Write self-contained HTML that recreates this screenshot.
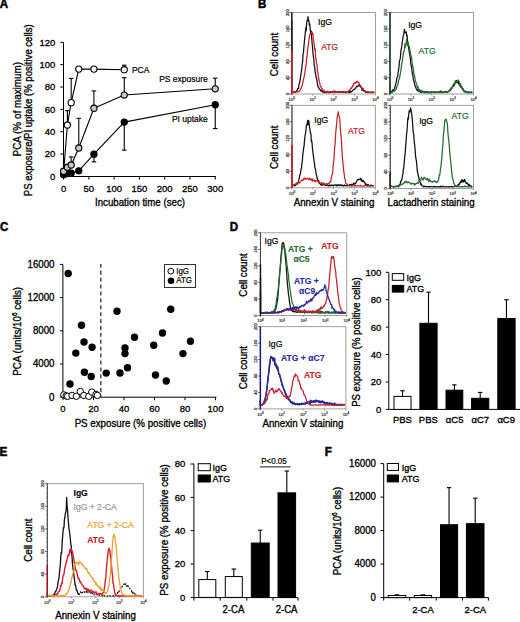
<!DOCTYPE html>
<html><head><meta charset="utf-8"><title>Figure</title>
<style>html,body{margin:0;padding:0;background:#fff;} svg{display:block;} text{font-family:"Liberation Sans", sans-serif;}</style>
</head><body>
<svg width="520" height="622" viewBox="0 0 520 622" font-family='"Liberation Sans", sans-serif'>
<rect width="520" height="622" fill="#fff"/>
<text x="-0.2" y="8.4" font-size="11.5" font-weight="bold" stroke="#000" stroke-width="0.5" transform="translate(-0.20 8.40) scale(1 1.05) translate(0.20 -8.40)">A</text>
<text x="258" y="8.4" font-size="11.5" font-weight="bold" stroke="#000" stroke-width="0.5" transform="translate(258.00 8.40) scale(1 1.05) translate(-258.00 -8.40)">B</text>
<text x="0" y="231.3" font-size="11.5" font-weight="bold" stroke="#000" stroke-width="0.5" transform="translate(0.00 231.30) scale(1 1.05) translate(-0.00 -231.30)">C</text>
<text x="229.8" y="231.0" font-size="11.5" font-weight="bold" stroke="#000" stroke-width="0.5" transform="translate(229.80 231.00) scale(1 1.05) translate(-229.80 -231.00)">D</text>
<text x="-0.4" y="456.0" font-size="11.7" font-weight="bold" stroke="#000" stroke-width="0.5" transform="translate(-0.40 456.00) scale(1 1.05) translate(0.40 -456.00)">E</text>
<text x="324.8" y="456.0" font-size="11.5" font-weight="bold" stroke="#000" stroke-width="0.5" transform="translate(324.80 456.00) scale(1 1.05) translate(-324.80 -456.00)">F</text>
<line x1="63.50" y1="42.30" x2="63.50" y2="176.90" stroke="#000" stroke-width="1"/>
<line x1="63.10" y1="176.50" x2="215.80" y2="176.50" stroke="#000" stroke-width="1"/>
<line x1="60.30" y1="176.40" x2="63.50" y2="176.40" stroke="#000" stroke-width="1"/>
<text x="55.30" y="179.80" font-size="9.5" text-anchor="end" fill="#000" stroke="#000" stroke-width="0.3" transform="translate(55.30 179.80) scale(1 1.05) translate(-55.30 -179.80)">0</text>
<line x1="60.30" y1="154.05" x2="63.50" y2="154.05" stroke="#000" stroke-width="1"/>
<text x="55.30" y="157.45" font-size="9.5" text-anchor="end" fill="#000" stroke="#000" stroke-width="0.3" transform="translate(55.30 157.45) scale(1 1.05) translate(-55.30 -157.45)">20</text>
<line x1="60.30" y1="131.70" x2="63.50" y2="131.70" stroke="#000" stroke-width="1"/>
<text x="55.30" y="135.10" font-size="9.5" text-anchor="end" fill="#000" stroke="#000" stroke-width="0.3" transform="translate(55.30 135.10) scale(1 1.05) translate(-55.30 -135.10)">40</text>
<line x1="60.30" y1="109.35" x2="63.50" y2="109.35" stroke="#000" stroke-width="1"/>
<text x="55.30" y="112.75" font-size="9.5" text-anchor="end" fill="#000" stroke="#000" stroke-width="0.3" transform="translate(55.30 112.75) scale(1 1.05) translate(-55.30 -112.75)">60</text>
<line x1="60.30" y1="87.00" x2="63.50" y2="87.00" stroke="#000" stroke-width="1"/>
<text x="55.30" y="90.40" font-size="9.5" text-anchor="end" fill="#000" stroke="#000" stroke-width="0.3" transform="translate(55.30 90.40) scale(1 1.05) translate(-55.30 -90.40)">80</text>
<line x1="60.30" y1="64.65" x2="63.50" y2="64.65" stroke="#000" stroke-width="1"/>
<text x="55.30" y="68.05" font-size="9.5" text-anchor="end" fill="#000" stroke="#000" stroke-width="0.3" transform="translate(55.30 68.05) scale(1 1.05) translate(-55.30 -68.05)">100</text>
<line x1="60.30" y1="42.30" x2="63.50" y2="42.30" stroke="#000" stroke-width="1"/>
<text x="55.30" y="45.70" font-size="9.5" text-anchor="end" fill="#000" stroke="#000" stroke-width="0.3" transform="translate(55.30 45.70) scale(1 1.05) translate(-55.30 -45.70)">120</text>
<line x1="63.60" y1="176.50" x2="63.60" y2="179.60" stroke="#000" stroke-width="1"/>
<text x="63.60" y="191.60" font-size="9.5" text-anchor="middle" fill="#000" stroke="#000" stroke-width="0.3" transform="translate(63.60 191.60) scale(1 1.05) translate(-63.60 -191.60)">0</text>
<line x1="88.88" y1="176.50" x2="88.88" y2="179.60" stroke="#000" stroke-width="1"/>
<text x="88.88" y="191.60" font-size="9.5" text-anchor="middle" fill="#000" stroke="#000" stroke-width="0.3" transform="translate(88.88 191.60) scale(1 1.05) translate(-88.88 -191.60)">50</text>
<line x1="114.15" y1="176.50" x2="114.15" y2="179.60" stroke="#000" stroke-width="1"/>
<text x="114.15" y="191.60" font-size="9.5" text-anchor="middle" fill="#000" stroke="#000" stroke-width="0.3" transform="translate(114.15 191.60) scale(1 1.05) translate(-114.15 -191.60)">100</text>
<line x1="139.42" y1="176.50" x2="139.42" y2="179.60" stroke="#000" stroke-width="1"/>
<text x="139.42" y="191.60" font-size="9.5" text-anchor="middle" fill="#000" stroke="#000" stroke-width="0.3" transform="translate(139.42 191.60) scale(1 1.05) translate(-139.42 -191.60)">150</text>
<line x1="164.70" y1="176.50" x2="164.70" y2="179.60" stroke="#000" stroke-width="1"/>
<text x="164.70" y="191.60" font-size="9.5" text-anchor="middle" fill="#000" stroke="#000" stroke-width="0.3" transform="translate(164.70 191.60) scale(1 1.05) translate(-164.70 -191.60)">200</text>
<line x1="189.97" y1="176.50" x2="189.97" y2="179.60" stroke="#000" stroke-width="1"/>
<text x="189.97" y="191.60" font-size="9.5" text-anchor="middle" fill="#000" stroke="#000" stroke-width="0.3" transform="translate(189.97 191.60) scale(1 1.05) translate(-189.97 -191.60)">250</text>
<line x1="215.25" y1="176.50" x2="215.25" y2="179.60" stroke="#000" stroke-width="1"/>
<text x="215.25" y="191.60" font-size="9.5" text-anchor="middle" fill="#000" stroke="#000" stroke-width="0.3" transform="translate(215.25 191.60) scale(1 1.05) translate(-215.25 -191.60)">300</text>
<text x="140.00" y="206.20" font-size="9.7" text-anchor="middle" fill="#000" stroke="#000" stroke-width="0.3" transform="translate(140.00 206.20) scale(1 1.05) translate(-140.00 -206.20)">Incubation time (sec)</text>
<text x="21.00" y="109.20" font-size="9.9" text-anchor="middle" fill="#000" stroke="#000" stroke-width="0.3" transform="rotate(-90 21.00 109.20) translate(21.00 109.20) scale(1 1.05) translate(-21.00 -109.20)">PCA (% of maximum)</text>
<text x="32.40" y="110.30" font-size="9.55" text-anchor="middle" fill="#000" stroke="#000" stroke-width="0.3" transform="rotate(-90 32.40 110.30) translate(32.40 110.30) scale(1 1.05) translate(-32.40 -110.30)">PS exposure/PI uptake (% positive cells)</text>
<line x1="67.39" y1="125.00" x2="67.39" y2="110.69" stroke="#000" stroke-width="1.1"/>
<line x1="65.09" y1="110.69" x2="69.69" y2="110.69" stroke="#000" stroke-width="1.1"/>
<line x1="71.18" y1="102.65" x2="71.18" y2="78.40" stroke="#000" stroke-width="1.1"/>
<line x1="68.88" y1="78.40" x2="73.48" y2="78.40" stroke="#000" stroke-width="1.1"/>
<line x1="124.26" y1="69.68" x2="124.26" y2="65.21" stroke="#000" stroke-width="1.1"/>
<line x1="121.96" y1="65.21" x2="126.56" y2="65.21" stroke="#000" stroke-width="1.1"/>
<line x1="71.18" y1="165.00" x2="71.18" y2="156.96" stroke="#000" stroke-width="1.1"/>
<line x1="68.88" y1="156.96" x2="73.48" y2="156.96" stroke="#000" stroke-width="1.1"/>
<line x1="78.77" y1="148.02" x2="78.77" y2="118.29" stroke="#000" stroke-width="1.1"/>
<line x1="76.47" y1="118.29" x2="81.06" y2="118.29" stroke="#000" stroke-width="1.1"/>
<line x1="93.93" y1="108.23" x2="93.93" y2="90.91" stroke="#000" stroke-width="1.1"/>
<line x1="91.63" y1="90.91" x2="96.23" y2="90.91" stroke="#000" stroke-width="1.1"/>
<line x1="124.26" y1="95.05" x2="124.26" y2="77.72" stroke="#000" stroke-width="1.1"/>
<line x1="121.96" y1="77.72" x2="126.56" y2="77.72" stroke="#000" stroke-width="1.1"/>
<line x1="215.25" y1="88.79" x2="215.25" y2="78.17" stroke="#000" stroke-width="1.1"/>
<line x1="212.95" y1="78.17" x2="217.55" y2="78.17" stroke="#000" stroke-width="1.1"/>
<line x1="93.93" y1="154.16" x2="93.93" y2="161.87" stroke="#000" stroke-width="1.1"/>
<line x1="91.63" y1="161.87" x2="96.23" y2="161.87" stroke="#000" stroke-width="1.1"/>
<line x1="124.26" y1="122.09" x2="124.26" y2="150.14" stroke="#000" stroke-width="1.1"/>
<line x1="121.96" y1="150.14" x2="126.56" y2="150.14" stroke="#000" stroke-width="1.1"/>
<line x1="215.25" y1="104.77" x2="215.25" y2="128.57" stroke="#000" stroke-width="1.1"/>
<line x1="212.95" y1="128.57" x2="217.55" y2="128.57" stroke="#000" stroke-width="1.1"/>
<polyline points="63.60,174.72 67.39,173.61 71.18,173.27 78.77,170.81 93.93,154.16 124.26,122.09 215.25,104.77" fill="none" stroke="#000" stroke-width="1.1" stroke-linejoin="round"/>
<polyline points="63.60,171.26 67.39,167.24 71.18,165.00 78.77,148.02 93.93,108.23 124.26,95.05 215.25,88.79" fill="none" stroke="#000" stroke-width="1.1" stroke-linejoin="round"/>
<polyline points="63.60,171.93 67.39,125.00 71.18,102.65 78.77,69.12 93.93,69.12 124.26,69.68" fill="none" stroke="#000" stroke-width="1.1" stroke-linejoin="round"/>
<circle cx="63.60" cy="171.93" r="3.1" fill="#fff" stroke="#000" stroke-width="1.1"/>
<circle cx="67.39" cy="125.00" r="3.1" fill="#fff" stroke="#000" stroke-width="1.1"/>
<circle cx="71.18" cy="102.65" r="3.1" fill="#fff" stroke="#000" stroke-width="1.1"/>
<circle cx="78.77" cy="69.12" r="3.1" fill="#fff" stroke="#000" stroke-width="1.1"/>
<circle cx="93.93" cy="69.12" r="3.1" fill="#fff" stroke="#000" stroke-width="1.1"/>
<circle cx="124.26" cy="69.68" r="3.1" fill="#fff" stroke="#000" stroke-width="1.1"/>
<circle cx="63.60" cy="174.72" r="3.1" fill="#000" stroke="#000" stroke-width="1.1"/>
<circle cx="67.39" cy="173.61" r="3.1" fill="#000" stroke="#000" stroke-width="1.1"/>
<circle cx="71.18" cy="173.27" r="3.1" fill="#000" stroke="#000" stroke-width="1.1"/>
<circle cx="78.77" cy="170.81" r="3.1" fill="#000" stroke="#000" stroke-width="1.1"/>
<circle cx="93.93" cy="154.16" r="3.1" fill="#000" stroke="#000" stroke-width="1.1"/>
<circle cx="124.26" cy="122.09" r="3.1" fill="#000" stroke="#000" stroke-width="1.1"/>
<circle cx="215.25" cy="104.77" r="3.1" fill="#000" stroke="#000" stroke-width="1.1"/>
<circle cx="63.60" cy="171.26" r="3.1" fill="#c8c8c8" stroke="#000" stroke-width="1.1"/>
<circle cx="67.39" cy="167.24" r="3.1" fill="#c8c8c8" stroke="#000" stroke-width="1.1"/>
<circle cx="71.18" cy="165.00" r="3.1" fill="#c8c8c8" stroke="#000" stroke-width="1.1"/>
<circle cx="78.77" cy="148.02" r="3.1" fill="#c8c8c8" stroke="#000" stroke-width="1.1"/>
<circle cx="93.93" cy="108.23" r="3.1" fill="#c8c8c8" stroke="#000" stroke-width="1.1"/>
<circle cx="124.26" cy="95.05" r="3.1" fill="#c8c8c8" stroke="#000" stroke-width="1.1"/>
<circle cx="215.25" cy="88.79" r="3.1" fill="#c8c8c8" stroke="#000" stroke-width="1.1"/>
<text x="131.90" y="72.80" font-size="8.5" text-anchor="start" fill="#000" stroke="#000" stroke-width="0.2" transform="translate(131.90 72.80) scale(1 1.05) translate(-131.90 -72.80)">PCA</text>
<text x="207.80" y="81.80" font-size="8.5" text-anchor="end" fill="#000" stroke="#000" stroke-width="0.2" transform="translate(207.80 81.80) scale(1 1.05) translate(-207.80 -81.80)">PS exposure</text>
<text x="207.80" y="122.40" font-size="8.5" text-anchor="end" fill="#000" stroke="#000" stroke-width="0.2" transform="translate(207.80 122.40) scale(1 1.05) translate(-207.80 -122.40)">PI uptake</text>
<rect x="291.80" y="12.60" width="83.60" height="81.40" fill="none" stroke="#888" stroke-width="0.8"/>
<line x1="291.80" y1="12.60" x2="291.80" y2="94.00" stroke="#444" stroke-width="1.0"/>
<line x1="290.80" y1="94.00" x2="291.80" y2="94.00" stroke="#444" stroke-width="0.6"/>
<line x1="290.80" y1="90.74" x2="291.80" y2="90.74" stroke="#444" stroke-width="0.6"/>
<line x1="290.80" y1="87.49" x2="291.80" y2="87.49" stroke="#444" stroke-width="0.6"/>
<line x1="290.80" y1="84.23" x2="291.80" y2="84.23" stroke="#444" stroke-width="0.6"/>
<line x1="290.80" y1="80.98" x2="291.80" y2="80.98" stroke="#444" stroke-width="0.6"/>
<line x1="290.80" y1="77.72" x2="291.80" y2="77.72" stroke="#444" stroke-width="0.6"/>
<line x1="290.80" y1="74.46" x2="291.80" y2="74.46" stroke="#444" stroke-width="0.6"/>
<line x1="290.80" y1="71.21" x2="291.80" y2="71.21" stroke="#444" stroke-width="0.6"/>
<line x1="290.80" y1="67.95" x2="291.80" y2="67.95" stroke="#444" stroke-width="0.6"/>
<line x1="290.80" y1="64.70" x2="291.80" y2="64.70" stroke="#444" stroke-width="0.6"/>
<line x1="290.80" y1="61.44" x2="291.80" y2="61.44" stroke="#444" stroke-width="0.6"/>
<line x1="290.80" y1="58.18" x2="291.80" y2="58.18" stroke="#444" stroke-width="0.6"/>
<line x1="290.80" y1="54.93" x2="291.80" y2="54.93" stroke="#444" stroke-width="0.6"/>
<line x1="290.80" y1="51.67" x2="291.80" y2="51.67" stroke="#444" stroke-width="0.6"/>
<line x1="290.80" y1="48.42" x2="291.80" y2="48.42" stroke="#444" stroke-width="0.6"/>
<line x1="290.80" y1="45.16" x2="291.80" y2="45.16" stroke="#444" stroke-width="0.6"/>
<line x1="290.80" y1="41.90" x2="291.80" y2="41.90" stroke="#444" stroke-width="0.6"/>
<line x1="290.80" y1="38.65" x2="291.80" y2="38.65" stroke="#444" stroke-width="0.6"/>
<line x1="290.80" y1="35.39" x2="291.80" y2="35.39" stroke="#444" stroke-width="0.6"/>
<line x1="290.80" y1="32.14" x2="291.80" y2="32.14" stroke="#444" stroke-width="0.6"/>
<line x1="290.80" y1="28.88" x2="291.80" y2="28.88" stroke="#444" stroke-width="0.6"/>
<line x1="290.80" y1="25.62" x2="291.80" y2="25.62" stroke="#444" stroke-width="0.6"/>
<line x1="290.80" y1="22.37" x2="291.80" y2="22.37" stroke="#444" stroke-width="0.6"/>
<line x1="290.80" y1="19.11" x2="291.80" y2="19.11" stroke="#444" stroke-width="0.6"/>
<line x1="290.80" y1="15.86" x2="291.80" y2="15.86" stroke="#444" stroke-width="0.6"/>
<line x1="290.80" y1="12.60" x2="291.80" y2="12.60" stroke="#444" stroke-width="0.6"/>
<line x1="289.20" y1="94.00" x2="291.80" y2="94.00" stroke="#444" stroke-width="0.7"/>
<text x="288.60" y="94.00" font-size="4.0" text-anchor="middle" fill="#333" stroke="#333" stroke-width="0.2" transform="rotate(-90 288.60 94.00) translate(288.60 94.00) scale(1 1.05) translate(-288.60 -94.00)">0</text>
<line x1="289.20" y1="77.72" x2="291.80" y2="77.72" stroke="#444" stroke-width="0.7"/>
<text x="288.60" y="77.72" font-size="4.0" text-anchor="middle" fill="#333" stroke="#333" stroke-width="0.2" transform="rotate(-90 288.60 77.72) translate(288.60 77.72) scale(1 1.05) translate(-288.60 -77.72)">40</text>
<line x1="289.20" y1="61.44" x2="291.80" y2="61.44" stroke="#444" stroke-width="0.7"/>
<text x="288.60" y="61.44" font-size="4.0" text-anchor="middle" fill="#333" stroke="#333" stroke-width="0.2" transform="rotate(-90 288.60 61.44) translate(288.60 61.44) scale(1 1.05) translate(-288.60 -61.44)">80</text>
<line x1="289.20" y1="45.16" x2="291.80" y2="45.16" stroke="#444" stroke-width="0.7"/>
<text x="288.60" y="45.16" font-size="4.0" text-anchor="middle" fill="#333" stroke="#333" stroke-width="0.2" transform="rotate(-90 288.60 45.16) translate(288.60 45.16) scale(1 1.05) translate(-288.60 -45.16)">120</text>
<line x1="289.20" y1="28.88" x2="291.80" y2="28.88" stroke="#444" stroke-width="0.7"/>
<text x="288.60" y="28.88" font-size="4.0" text-anchor="middle" fill="#333" stroke="#333" stroke-width="0.2" transform="rotate(-90 288.60 28.88) translate(288.60 28.88) scale(1 1.05) translate(-288.60 -28.88)">160</text>
<line x1="289.20" y1="12.60" x2="291.80" y2="12.60" stroke="#444" stroke-width="0.7"/>
<text x="288.60" y="12.60" font-size="4.0" text-anchor="middle" fill="#333" stroke="#333" stroke-width="0.2" transform="rotate(-90 288.60 12.60) translate(288.60 12.60) scale(1 1.05) translate(-288.60 -12.60)">200</text>
<line x1="291.80" y1="94.00" x2="291.80" y2="95.50" stroke="#555" stroke-width="0.6"/>
<text x="291.80" y="101.00" font-size="4.2" text-anchor="middle" fill="#333" stroke="#333" stroke-width="0.2" transform="translate(291.80 101.00) scale(1 1.05) translate(-291.80 -101.00)">10<tspan font-size="3" dy="-1.7">0</tspan></text>
<line x1="312.70" y1="94.00" x2="312.70" y2="95.50" stroke="#555" stroke-width="0.6"/>
<text x="312.70" y="101.00" font-size="4.2" text-anchor="middle" fill="#333" stroke="#333" stroke-width="0.2" transform="translate(312.70 101.00) scale(1 1.05) translate(-312.70 -101.00)">10<tspan font-size="3" dy="-1.7">1</tspan></text>
<line x1="333.60" y1="94.00" x2="333.60" y2="95.50" stroke="#555" stroke-width="0.6"/>
<text x="333.60" y="101.00" font-size="4.2" text-anchor="middle" fill="#333" stroke="#333" stroke-width="0.2" transform="translate(333.60 101.00) scale(1 1.05) translate(-333.60 -101.00)">10<tspan font-size="3" dy="-1.7">2</tspan></text>
<line x1="354.50" y1="94.00" x2="354.50" y2="95.50" stroke="#555" stroke-width="0.6"/>
<text x="354.50" y="101.00" font-size="4.2" text-anchor="middle" fill="#333" stroke="#333" stroke-width="0.2" transform="translate(354.50 101.00) scale(1 1.05) translate(-354.50 -101.00)">10<tspan font-size="3" dy="-1.7">3</tspan></text>
<line x1="375.40" y1="94.00" x2="375.40" y2="95.50" stroke="#555" stroke-width="0.6"/>
<text x="375.40" y="101.00" font-size="4.2" text-anchor="middle" fill="#333" stroke="#333" stroke-width="0.2" transform="translate(375.40 101.00) scale(1 1.05) translate(-375.40 -101.00)">10<tspan font-size="3" dy="-1.7">4</tspan></text>
<polyline points="291.80,20.60 291.80,91.45 292.25,92.50 292.70,92.11 293.15,92.16 293.60,91.82 294.05,92.50 294.50,92.11 294.95,92.09 295.40,92.02 295.85,91.63 296.30,91.08 296.75,90.46 297.20,90.15 297.65,88.55 298.10,88.10 298.55,88.62 299.00,84.08 299.45,83.36 299.90,81.47 300.35,78.09 300.80,75.19 301.25,72.06 301.70,69.32 302.15,64.24 302.60,61.88 303.05,53.88 303.50,52.47 303.95,46.39 304.40,41.36 304.85,36.50 305.30,32.86 305.75,27.90 306.20,30.67 306.65,22.83 307.10,20.89 307.55,20.07 308.00,16.60 308.45,20.83 308.90,20.49 309.35,25.17 309.80,23.96 310.25,29.65 310.70,32.86 311.15,30.95 311.60,37.35 312.05,42.55 312.50,46.65 312.95,53.02 313.40,56.76 313.85,59.16 314.30,65.94 314.75,67.04 315.20,72.51 315.65,73.80 316.10,77.75 316.55,77.78 317.00,80.67 317.45,83.81 317.90,86.43 318.35,87.00 318.80,87.67 319.25,89.21 319.70,89.23 320.15,89.50 320.60,90.59 321.05,91.18 321.50,90.90 321.95,91.67 322.40,91.34 322.85,92.01 323.30,91.27 323.75,92.17 324.20,92.50 324.65,92.11 325.10,92.44 325.55,92.50 326.00,92.27 326.45,91.93 326.90,92.50 327.35,92.26 327.80,92.31 328.25,92.31 328.70,91.93 329.15,92.50 329.60,91.98 330.05,92.34 330.50,92.20 330.95,92.34 331.40,92.38 331.85,92.46 332.30,92.08 332.75,91.41 333.20,91.83 333.65,91.91 334.10,92.02 334.55,92.44 335.00,92.00 335.45,91.42 335.90,92.50 336.35,91.92 336.80,91.84 337.25,92.13 337.70,91.93 338.15,91.69 338.60,91.37 339.05,91.73 339.50,91.59 339.95,92.12 340.40,91.92 340.85,92.18 341.30,92.13 341.75,92.43 342.20,91.98 342.65,91.68 343.10,92.31 343.55,92.15 344.00,92.01 344.45,92.24 344.90,91.88 345.35,92.15 345.80,92.50 346.25,92.50 346.70,91.95 347.15,91.98 347.60,91.77 348.05,92.09 348.50,92.08 348.95,92.50 349.40,91.47 349.85,92.36 350.30,91.41 350.75,92.23 351.20,91.85 351.65,91.25 352.10,91.28 352.55,91.12 353.00,89.93 353.45,89.63 353.90,89.33 354.35,89.28 354.80,89.09 355.25,88.38 355.70,87.92 356.15,87.14 356.60,86.19 357.05,86.47 357.50,86.62 357.95,86.33 358.40,84.94 358.85,85.75 359.30,85.87 359.75,86.12 360.20,86.29 360.65,87.05 361.10,86.91 361.55,87.71 362.00,90.45 362.45,89.38 362.90,88.18 363.35,90.96 363.80,90.63 364.25,90.52 364.70,91.35 365.15,90.99 365.60,92.35 366.05,92.48 366.50,92.15 366.95,92.46 367.40,92.50 367.85,92.06 368.30,92.21 368.75,92.33 369.20,92.50 369.65,92.26 370.10,92.41 370.55,92.50 371.00,92.19 371.45,92.25 371.90,92.36 372.35,92.14 372.80,92.50 373.25,92.45 373.70,92.50 374.15,91.92" fill="none" stroke="#111" stroke-width="1.25" stroke-linejoin="round"/>
<polyline points="291.80,42.60 291.80,92.19 292.25,91.73 292.70,92.50 293.15,91.81 293.60,92.29 294.05,92.28 294.50,91.39 294.95,92.06 295.40,92.11 295.85,91.74 296.30,91.51 296.75,91.91 297.20,91.52 297.65,92.07 298.10,91.61 298.55,91.40 299.00,91.54 299.45,91.25 299.90,90.84 300.35,89.46 300.80,88.65 301.25,87.80 301.70,86.42 302.15,86.07 302.60,83.61 303.05,81.53 303.50,79.01 303.95,78.02 304.40,75.03 304.85,73.73 305.30,69.17 305.75,67.66 306.20,63.40 306.65,56.93 307.10,57.19 307.55,49.90 308.00,46.91 308.45,44.36 308.90,40.21 309.35,37.33 309.80,34.22 310.25,34.13 310.70,33.31 311.15,32.56 311.60,32.94 312.05,32.08 312.50,34.30 312.95,33.49 313.40,39.96 313.85,41.73 314.30,44.79 314.75,49.82 315.20,48.56 315.65,57.72 316.10,59.08 316.55,63.17 317.00,64.54 317.45,71.76 317.90,71.98 318.35,76.60 318.80,78.71 319.25,81.45 319.70,82.45 320.15,85.49 320.60,86.20 321.05,87.14 321.50,87.25 321.95,90.57 322.40,88.99 322.85,89.85 323.30,90.99 323.75,90.90 324.20,91.51 324.65,90.70 325.10,91.49 325.55,91.78 326.00,91.85 326.45,91.88 326.90,91.91 327.35,92.23 327.80,90.99 328.25,92.50 328.70,92.50 329.15,91.94 329.60,91.96 330.05,91.74 330.50,91.99 330.95,91.96 331.40,91.76 331.85,91.49 332.30,92.09 332.75,92.06 333.20,91.08 333.65,91.68 334.10,92.33 334.55,90.92 335.00,91.58 335.45,92.16 335.90,92.41 336.35,91.79 336.80,92.27 337.25,92.37 337.70,92.47 338.15,92.14 338.60,91.45 339.05,92.11 339.50,92.50 339.95,91.65 340.40,91.90 340.85,91.58 341.30,91.43 341.75,92.01 342.20,92.00 342.65,91.95 343.10,92.41 343.55,91.63 344.00,91.31 344.45,91.80 344.90,91.95 345.35,91.91 345.80,92.08 346.25,92.02 346.70,91.74 347.15,91.81 347.60,91.46 348.05,91.81 348.50,90.61 348.95,90.45 349.40,90.74 349.85,90.98 350.30,89.22 350.75,88.02 351.20,88.54 351.65,87.76 352.10,87.15 352.55,85.63 353.00,86.01 353.45,83.96 353.90,84.21 354.35,82.67 354.80,82.78 355.25,82.52 355.70,83.13 356.15,82.27 356.60,81.81 357.05,81.10 357.50,81.61 357.95,82.68 358.40,82.29 358.85,82.45 359.30,83.99 359.75,84.94 360.20,85.69 360.65,85.67 361.10,86.65 361.55,88.34 362.00,88.23 362.45,89.38 362.90,90.09 363.35,89.51 363.80,90.17 364.25,91.31 364.70,91.21 365.15,91.25 365.60,91.96 366.05,91.87 366.50,91.65 366.95,92.50 367.40,91.95 367.85,91.84 368.30,91.97 368.75,92.50 369.20,92.09 369.65,92.50 370.10,92.02 370.55,92.02 371.00,92.18 371.45,92.50 371.90,92.50 372.35,91.95 372.80,92.50 373.25,92.10 373.70,92.10 374.15,92.40" fill="none" stroke="#c42229" stroke-width="1.25" stroke-linejoin="round"/>
<line x1="291.80" y1="12.60" x2="291.80" y2="52.60" stroke="#222" stroke-width="1.3"/>
<line x1="291.80" y1="50.60" x2="291.80" y2="94.00" stroke="#c42229" stroke-width="1.4"/>
<text x="318.00" y="24.90" font-size="8.6" text-anchor="start" fill="#000" stroke="#000" stroke-width="0.2" transform="translate(318.00 24.90) scale(1 1.05) translate(-318.00 -24.90)">IgG</text>
<text x="321.20" y="50.40" font-size="8.6" text-anchor="start" fill="#c42229" stroke="#c42229" stroke-width="0.2" transform="translate(321.20 50.40) scale(1 1.05) translate(-321.20 -50.40)">ATG</text>
<rect x="390.00" y="12.60" width="83.60" height="81.40" fill="none" stroke="#888" stroke-width="0.8"/>
<line x1="390.00" y1="12.60" x2="390.00" y2="94.00" stroke="#444" stroke-width="1.0"/>
<line x1="389.00" y1="94.00" x2="390.00" y2="94.00" stroke="#444" stroke-width="0.6"/>
<line x1="389.00" y1="90.74" x2="390.00" y2="90.74" stroke="#444" stroke-width="0.6"/>
<line x1="389.00" y1="87.49" x2="390.00" y2="87.49" stroke="#444" stroke-width="0.6"/>
<line x1="389.00" y1="84.23" x2="390.00" y2="84.23" stroke="#444" stroke-width="0.6"/>
<line x1="389.00" y1="80.98" x2="390.00" y2="80.98" stroke="#444" stroke-width="0.6"/>
<line x1="389.00" y1="77.72" x2="390.00" y2="77.72" stroke="#444" stroke-width="0.6"/>
<line x1="389.00" y1="74.46" x2="390.00" y2="74.46" stroke="#444" stroke-width="0.6"/>
<line x1="389.00" y1="71.21" x2="390.00" y2="71.21" stroke="#444" stroke-width="0.6"/>
<line x1="389.00" y1="67.95" x2="390.00" y2="67.95" stroke="#444" stroke-width="0.6"/>
<line x1="389.00" y1="64.70" x2="390.00" y2="64.70" stroke="#444" stroke-width="0.6"/>
<line x1="389.00" y1="61.44" x2="390.00" y2="61.44" stroke="#444" stroke-width="0.6"/>
<line x1="389.00" y1="58.18" x2="390.00" y2="58.18" stroke="#444" stroke-width="0.6"/>
<line x1="389.00" y1="54.93" x2="390.00" y2="54.93" stroke="#444" stroke-width="0.6"/>
<line x1="389.00" y1="51.67" x2="390.00" y2="51.67" stroke="#444" stroke-width="0.6"/>
<line x1="389.00" y1="48.42" x2="390.00" y2="48.42" stroke="#444" stroke-width="0.6"/>
<line x1="389.00" y1="45.16" x2="390.00" y2="45.16" stroke="#444" stroke-width="0.6"/>
<line x1="389.00" y1="41.90" x2="390.00" y2="41.90" stroke="#444" stroke-width="0.6"/>
<line x1="389.00" y1="38.65" x2="390.00" y2="38.65" stroke="#444" stroke-width="0.6"/>
<line x1="389.00" y1="35.39" x2="390.00" y2="35.39" stroke="#444" stroke-width="0.6"/>
<line x1="389.00" y1="32.14" x2="390.00" y2="32.14" stroke="#444" stroke-width="0.6"/>
<line x1="389.00" y1="28.88" x2="390.00" y2="28.88" stroke="#444" stroke-width="0.6"/>
<line x1="389.00" y1="25.62" x2="390.00" y2="25.62" stroke="#444" stroke-width="0.6"/>
<line x1="389.00" y1="22.37" x2="390.00" y2="22.37" stroke="#444" stroke-width="0.6"/>
<line x1="389.00" y1="19.11" x2="390.00" y2="19.11" stroke="#444" stroke-width="0.6"/>
<line x1="389.00" y1="15.86" x2="390.00" y2="15.86" stroke="#444" stroke-width="0.6"/>
<line x1="389.00" y1="12.60" x2="390.00" y2="12.60" stroke="#444" stroke-width="0.6"/>
<line x1="387.40" y1="94.00" x2="390.00" y2="94.00" stroke="#444" stroke-width="0.7"/>
<text x="386.80" y="94.00" font-size="4.0" text-anchor="middle" fill="#333" stroke="#333" stroke-width="0.2" transform="rotate(-90 386.80 94.00) translate(386.80 94.00) scale(1 1.05) translate(-386.80 -94.00)">0</text>
<line x1="387.40" y1="77.72" x2="390.00" y2="77.72" stroke="#444" stroke-width="0.7"/>
<text x="386.80" y="77.72" font-size="4.0" text-anchor="middle" fill="#333" stroke="#333" stroke-width="0.2" transform="rotate(-90 386.80 77.72) translate(386.80 77.72) scale(1 1.05) translate(-386.80 -77.72)">40</text>
<line x1="387.40" y1="61.44" x2="390.00" y2="61.44" stroke="#444" stroke-width="0.7"/>
<text x="386.80" y="61.44" font-size="4.0" text-anchor="middle" fill="#333" stroke="#333" stroke-width="0.2" transform="rotate(-90 386.80 61.44) translate(386.80 61.44) scale(1 1.05) translate(-386.80 -61.44)">80</text>
<line x1="387.40" y1="45.16" x2="390.00" y2="45.16" stroke="#444" stroke-width="0.7"/>
<text x="386.80" y="45.16" font-size="4.0" text-anchor="middle" fill="#333" stroke="#333" stroke-width="0.2" transform="rotate(-90 386.80 45.16) translate(386.80 45.16) scale(1 1.05) translate(-386.80 -45.16)">120</text>
<line x1="387.40" y1="28.88" x2="390.00" y2="28.88" stroke="#444" stroke-width="0.7"/>
<text x="386.80" y="28.88" font-size="4.0" text-anchor="middle" fill="#333" stroke="#333" stroke-width="0.2" transform="rotate(-90 386.80 28.88) translate(386.80 28.88) scale(1 1.05) translate(-386.80 -28.88)">160</text>
<line x1="387.40" y1="12.60" x2="390.00" y2="12.60" stroke="#444" stroke-width="0.7"/>
<text x="386.80" y="12.60" font-size="4.0" text-anchor="middle" fill="#333" stroke="#333" stroke-width="0.2" transform="rotate(-90 386.80 12.60) translate(386.80 12.60) scale(1 1.05) translate(-386.80 -12.60)">200</text>
<line x1="390.00" y1="94.00" x2="390.00" y2="95.50" stroke="#555" stroke-width="0.6"/>
<text x="390.00" y="101.00" font-size="4.2" text-anchor="middle" fill="#333" stroke="#333" stroke-width="0.2" transform="translate(390.00 101.00) scale(1 1.05) translate(-390.00 -101.00)">10<tspan font-size="3" dy="-1.7">0</tspan></text>
<line x1="410.90" y1="94.00" x2="410.90" y2="95.50" stroke="#555" stroke-width="0.6"/>
<text x="410.90" y="101.00" font-size="4.2" text-anchor="middle" fill="#333" stroke="#333" stroke-width="0.2" transform="translate(410.90 101.00) scale(1 1.05) translate(-410.90 -101.00)">10<tspan font-size="3" dy="-1.7">1</tspan></text>
<line x1="431.80" y1="94.00" x2="431.80" y2="95.50" stroke="#555" stroke-width="0.6"/>
<text x="431.80" y="101.00" font-size="4.2" text-anchor="middle" fill="#333" stroke="#333" stroke-width="0.2" transform="translate(431.80 101.00) scale(1 1.05) translate(-431.80 -101.00)">10<tspan font-size="3" dy="-1.7">2</tspan></text>
<line x1="452.70" y1="94.00" x2="452.70" y2="95.50" stroke="#555" stroke-width="0.6"/>
<text x="452.70" y="101.00" font-size="4.2" text-anchor="middle" fill="#333" stroke="#333" stroke-width="0.2" transform="translate(452.70 101.00) scale(1 1.05) translate(-452.70 -101.00)">10<tspan font-size="3" dy="-1.7">3</tspan></text>
<line x1="473.60" y1="94.00" x2="473.60" y2="95.50" stroke="#555" stroke-width="0.6"/>
<text x="473.60" y="101.00" font-size="4.2" text-anchor="middle" fill="#333" stroke="#333" stroke-width="0.2" transform="translate(473.60 101.00) scale(1 1.05) translate(-473.60 -101.00)">10<tspan font-size="3" dy="-1.7">4</tspan></text>
<polyline points="390.00,82.60 390.00,92.16 390.45,91.87 390.90,92.12 391.35,91.56 391.80,91.04 392.25,90.95 392.70,89.95 393.15,90.72 393.60,89.59 394.05,89.28 394.50,88.43 394.95,86.96 395.40,85.38 395.85,83.70 396.30,81.85 396.75,78.39 397.20,77.20 397.65,76.87 398.10,72.43 398.55,70.23 399.00,66.91 399.45,61.53 399.90,59.68 400.35,58.14 400.80,51.82 401.25,49.03 401.70,46.78 402.15,43.29 402.60,40.02 403.05,36.67 403.50,35.16 403.95,32.86 404.40,29.27 404.85,32.57 405.30,32.67 405.75,32.48 406.20,31.70 406.65,35.87 407.10,34.95 407.55,41.19 408.00,43.57 408.45,45.33 408.90,49.61 409.35,52.67 409.80,54.82 410.25,57.98 410.70,62.09 411.15,65.80 411.60,67.28 412.05,71.21 412.50,74.57 412.95,75.79 413.40,79.91 413.85,81.06 414.30,82.50 414.75,84.59 415.20,86.35 415.65,86.90 416.10,88.46 416.55,89.31 417.00,90.22 417.45,89.51 417.90,90.96 418.35,90.48 418.80,91.16 419.25,91.70 419.70,91.46 420.15,91.78 420.60,91.95 421.05,92.60 421.50,92.12 421.95,91.83 422.40,92.03 422.85,91.85 423.30,91.67 423.75,92.11 424.20,91.50 424.65,92.60 425.10,92.39 425.55,92.60 426.00,91.98 426.45,92.26 426.90,91.63 427.35,92.44 427.80,92.60 428.25,91.80 428.70,92.60 429.15,92.60 429.60,92.37 430.05,92.05 430.50,92.50 430.95,92.23 431.40,92.60 431.85,91.62 432.30,92.33 432.75,92.25 433.20,92.07 433.65,92.24 434.10,92.22 434.55,92.60 435.00,92.35 435.45,92.13 435.90,91.90 436.35,92.35 436.80,92.27 437.25,92.18 437.70,92.09 438.15,92.23 438.60,92.41 439.05,92.51 439.50,91.87 439.95,92.20 440.40,92.31 440.85,90.96 441.30,91.97 441.75,91.98 442.20,92.26 442.65,92.60 443.10,91.87 443.55,92.34 444.00,92.28 444.45,91.88 444.90,91.86 445.35,92.14 445.80,92.19 446.25,91.29 446.70,91.84 447.15,92.42 447.60,91.52 448.05,91.63 448.50,91.48 448.95,90.91 449.40,90.82 449.85,89.53 450.30,90.03 450.75,89.51 451.20,88.41 451.65,88.81 452.10,87.16 452.55,87.12 453.00,85.54 453.45,86.18 453.90,84.55 454.35,85.32 454.80,83.84 455.25,82.93 455.70,82.11 456.15,80.61 456.60,80.51 457.05,82.95 457.50,82.60 457.95,81.29 458.40,82.34 458.85,84.24 459.30,83.49 459.75,85.39 460.20,85.95 460.65,87.00 461.10,87.11 461.55,86.28 462.00,88.20 462.45,89.16 462.90,88.29 463.35,90.47 463.80,90.75 464.25,91.19 464.70,91.18 465.15,91.78 465.60,91.21 466.05,92.13 466.50,91.90 466.95,92.14 467.40,92.60 467.85,92.60 468.30,92.41 468.75,92.60 469.20,92.43 469.65,92.42 470.10,92.41 470.55,92.50 471.00,92.35 471.45,92.60 471.90,92.25 472.35,92.60" fill="none" stroke="#111" stroke-width="1.25" stroke-linejoin="round"/>
<polyline points="390.00,82.60 390.00,92.60 390.45,92.60 390.90,92.03 391.35,92.60 391.80,92.19 392.25,92.60 392.70,91.39 393.15,91.59 393.60,90.80 394.05,91.39 394.50,90.56 394.95,90.46 395.40,90.16 395.85,88.99 396.30,89.05 396.75,87.55 397.20,85.74 397.65,84.89 398.10,83.77 398.55,80.08 399.00,79.91 399.45,78.42 399.90,75.53 400.35,73.76 400.80,71.08 401.25,68.37 401.70,63.07 402.15,62.37 402.60,59.35 403.05,55.97 403.50,51.63 403.95,51.81 404.40,50.00 404.85,43.98 405.30,47.33 405.75,44.53 406.20,42.18 406.65,39.46 407.10,43.65 407.55,45.91 408.00,42.48 408.45,45.11 408.90,46.35 409.35,47.00 409.80,49.34 410.25,51.52 410.70,54.85 411.15,55.41 411.60,57.89 412.05,62.29 412.50,65.53 412.95,66.96 413.40,69.83 413.85,73.77 414.30,75.54 414.75,76.37 415.20,79.39 415.65,81.40 416.10,82.62 416.55,84.28 417.00,85.56 417.45,87.98 417.90,86.57 418.35,88.40 418.80,89.74 419.25,89.29 419.70,90.17 420.15,90.73 420.60,90.56 421.05,90.27 421.50,91.31 421.95,91.03 422.40,90.93 422.85,92.42 423.30,92.28 423.75,91.80 424.20,92.60 424.65,92.31 425.10,91.71 425.55,91.83 426.00,92.04 426.45,92.60 426.90,91.35 427.35,92.07 427.80,91.99 428.25,92.10 428.70,92.60 429.15,92.60 429.60,92.60 430.05,91.54 430.50,92.60 430.95,92.40 431.40,92.40 431.85,92.08 432.30,92.10 432.75,92.20 433.20,92.60 433.65,92.60 434.10,92.24 434.55,92.20 435.00,91.82 435.45,92.35 435.90,92.55 436.35,92.15 436.80,92.60 437.25,92.60 437.70,92.60 438.15,92.20 438.60,91.49 439.05,92.01 439.50,91.87 439.95,92.22 440.40,92.21 440.85,92.49 441.30,92.43 441.75,92.60 442.20,92.60 442.65,92.60 443.10,91.98 443.55,92.05 444.00,91.85 444.45,91.66 444.90,92.38 445.35,91.80 445.80,91.39 446.25,92.13 446.70,91.58 447.15,92.00 447.60,92.50 448.05,91.55 448.50,91.76 448.95,91.03 449.40,90.97 449.85,90.14 450.30,91.01 450.75,88.06 451.20,87.80 451.65,88.13 452.10,87.74 452.55,86.33 453.00,85.01 453.45,84.32 453.90,83.48 454.35,84.47 454.80,83.12 455.25,80.53 455.70,80.88 456.15,81.93 456.60,81.17 457.05,81.59 457.50,81.35 457.95,79.86 458.40,81.46 458.85,81.01 459.30,82.48 459.75,84.59 460.20,84.81 460.65,83.61 461.10,86.68 461.55,87.73 462.00,87.07 462.45,88.56 462.90,89.31 463.35,89.08 463.80,91.37 464.25,90.65 464.70,91.75 465.15,92.19 465.60,92.13 466.05,91.44 466.50,92.15 466.95,92.60 467.40,92.60 467.85,91.73 468.30,91.98 468.75,92.60 469.20,91.51 469.65,92.59 470.10,92.60 470.55,92.52 471.00,92.13 471.45,91.88 471.90,92.10 472.35,92.60" fill="none" stroke="#266c32" stroke-width="1.25" stroke-linejoin="round"/>
<line x1="390.00" y1="12.60" x2="390.00" y2="94.00" stroke="#1d4a2a" stroke-width="1.4"/>
<text x="408.20" y="27.70" font-size="8.6" text-anchor="start" fill="#000" stroke="#000" stroke-width="0.2" transform="translate(408.20 27.70) scale(1 1.05) translate(-408.20 -27.70)">IgG</text>
<text x="418.60" y="54.40" font-size="8.6" text-anchor="start" fill="#266c32" stroke="#266c32" stroke-width="0.2" transform="translate(418.60 54.40) scale(1 1.05) translate(-418.60 -54.40)">ATG</text>
<rect x="292.00" y="105.30" width="83.30" height="82.50" fill="none" stroke="#888" stroke-width="0.8"/>
<line x1="292.00" y1="105.30" x2="292.00" y2="187.80" stroke="#444" stroke-width="1.0"/>
<line x1="291.00" y1="187.80" x2="292.00" y2="187.80" stroke="#444" stroke-width="0.6"/>
<line x1="291.00" y1="184.50" x2="292.00" y2="184.50" stroke="#444" stroke-width="0.6"/>
<line x1="291.00" y1="181.20" x2="292.00" y2="181.20" stroke="#444" stroke-width="0.6"/>
<line x1="291.00" y1="177.90" x2="292.00" y2="177.90" stroke="#444" stroke-width="0.6"/>
<line x1="291.00" y1="174.60" x2="292.00" y2="174.60" stroke="#444" stroke-width="0.6"/>
<line x1="291.00" y1="171.30" x2="292.00" y2="171.30" stroke="#444" stroke-width="0.6"/>
<line x1="291.00" y1="168.00" x2="292.00" y2="168.00" stroke="#444" stroke-width="0.6"/>
<line x1="291.00" y1="164.70" x2="292.00" y2="164.70" stroke="#444" stroke-width="0.6"/>
<line x1="291.00" y1="161.40" x2="292.00" y2="161.40" stroke="#444" stroke-width="0.6"/>
<line x1="291.00" y1="158.10" x2="292.00" y2="158.10" stroke="#444" stroke-width="0.6"/>
<line x1="291.00" y1="154.80" x2="292.00" y2="154.80" stroke="#444" stroke-width="0.6"/>
<line x1="291.00" y1="151.50" x2="292.00" y2="151.50" stroke="#444" stroke-width="0.6"/>
<line x1="291.00" y1="148.20" x2="292.00" y2="148.20" stroke="#444" stroke-width="0.6"/>
<line x1="291.00" y1="144.90" x2="292.00" y2="144.90" stroke="#444" stroke-width="0.6"/>
<line x1="291.00" y1="141.60" x2="292.00" y2="141.60" stroke="#444" stroke-width="0.6"/>
<line x1="291.00" y1="138.30" x2="292.00" y2="138.30" stroke="#444" stroke-width="0.6"/>
<line x1="291.00" y1="135.00" x2="292.00" y2="135.00" stroke="#444" stroke-width="0.6"/>
<line x1="291.00" y1="131.70" x2="292.00" y2="131.70" stroke="#444" stroke-width="0.6"/>
<line x1="291.00" y1="128.40" x2="292.00" y2="128.40" stroke="#444" stroke-width="0.6"/>
<line x1="291.00" y1="125.10" x2="292.00" y2="125.10" stroke="#444" stroke-width="0.6"/>
<line x1="291.00" y1="121.80" x2="292.00" y2="121.80" stroke="#444" stroke-width="0.6"/>
<line x1="291.00" y1="118.50" x2="292.00" y2="118.50" stroke="#444" stroke-width="0.6"/>
<line x1="291.00" y1="115.20" x2="292.00" y2="115.20" stroke="#444" stroke-width="0.6"/>
<line x1="291.00" y1="111.90" x2="292.00" y2="111.90" stroke="#444" stroke-width="0.6"/>
<line x1="291.00" y1="108.60" x2="292.00" y2="108.60" stroke="#444" stroke-width="0.6"/>
<line x1="291.00" y1="105.30" x2="292.00" y2="105.30" stroke="#444" stroke-width="0.6"/>
<line x1="289.40" y1="187.80" x2="292.00" y2="187.80" stroke="#444" stroke-width="0.7"/>
<text x="288.80" y="187.80" font-size="4.0" text-anchor="middle" fill="#333" stroke="#333" stroke-width="0.2" transform="rotate(-90 288.80 187.80) translate(288.80 187.80) scale(1 1.05) translate(-288.80 -187.80)">0</text>
<line x1="289.40" y1="171.30" x2="292.00" y2="171.30" stroke="#444" stroke-width="0.7"/>
<text x="288.80" y="171.30" font-size="4.0" text-anchor="middle" fill="#333" stroke="#333" stroke-width="0.2" transform="rotate(-90 288.80 171.30) translate(288.80 171.30) scale(1 1.05) translate(-288.80 -171.30)">40</text>
<line x1="289.40" y1="154.80" x2="292.00" y2="154.80" stroke="#444" stroke-width="0.7"/>
<text x="288.80" y="154.80" font-size="4.0" text-anchor="middle" fill="#333" stroke="#333" stroke-width="0.2" transform="rotate(-90 288.80 154.80) translate(288.80 154.80) scale(1 1.05) translate(-288.80 -154.80)">80</text>
<line x1="289.40" y1="138.30" x2="292.00" y2="138.30" stroke="#444" stroke-width="0.7"/>
<text x="288.80" y="138.30" font-size="4.0" text-anchor="middle" fill="#333" stroke="#333" stroke-width="0.2" transform="rotate(-90 288.80 138.30) translate(288.80 138.30) scale(1 1.05) translate(-288.80 -138.30)">120</text>
<line x1="289.40" y1="121.80" x2="292.00" y2="121.80" stroke="#444" stroke-width="0.7"/>
<text x="288.80" y="121.80" font-size="4.0" text-anchor="middle" fill="#333" stroke="#333" stroke-width="0.2" transform="rotate(-90 288.80 121.80) translate(288.80 121.80) scale(1 1.05) translate(-288.80 -121.80)">160</text>
<line x1="289.40" y1="105.30" x2="292.00" y2="105.30" stroke="#444" stroke-width="0.7"/>
<text x="288.80" y="105.30" font-size="4.0" text-anchor="middle" fill="#333" stroke="#333" stroke-width="0.2" transform="rotate(-90 288.80 105.30) translate(288.80 105.30) scale(1 1.05) translate(-288.80 -105.30)">200</text>
<line x1="292.00" y1="187.80" x2="292.00" y2="189.30" stroke="#555" stroke-width="0.6"/>
<text x="292.00" y="194.80" font-size="4.2" text-anchor="middle" fill="#333" stroke="#333" stroke-width="0.2" transform="translate(292.00 194.80) scale(1 1.05) translate(-292.00 -194.80)">10<tspan font-size="3" dy="-1.7">0</tspan></text>
<line x1="312.82" y1="187.80" x2="312.82" y2="189.30" stroke="#555" stroke-width="0.6"/>
<text x="312.82" y="194.80" font-size="4.2" text-anchor="middle" fill="#333" stroke="#333" stroke-width="0.2" transform="translate(312.82 194.80) scale(1 1.05) translate(-312.82 -194.80)">10<tspan font-size="3" dy="-1.7">1</tspan></text>
<line x1="333.65" y1="187.80" x2="333.65" y2="189.30" stroke="#555" stroke-width="0.6"/>
<text x="333.65" y="194.80" font-size="4.2" text-anchor="middle" fill="#333" stroke="#333" stroke-width="0.2" transform="translate(333.65 194.80) scale(1 1.05) translate(-333.65 -194.80)">10<tspan font-size="3" dy="-1.7">2</tspan></text>
<line x1="354.48" y1="187.80" x2="354.48" y2="189.30" stroke="#555" stroke-width="0.6"/>
<text x="354.48" y="194.80" font-size="4.2" text-anchor="middle" fill="#333" stroke="#333" stroke-width="0.2" transform="translate(354.48 194.80) scale(1 1.05) translate(-354.48 -194.80)">10<tspan font-size="3" dy="-1.7">3</tspan></text>
<line x1="375.30" y1="187.80" x2="375.30" y2="189.30" stroke="#555" stroke-width="0.6"/>
<text x="375.30" y="194.80" font-size="4.2" text-anchor="middle" fill="#333" stroke="#333" stroke-width="0.2" transform="translate(375.30 194.80) scale(1 1.05) translate(-375.30 -194.80)">10<tspan font-size="3" dy="-1.7">4</tspan></text>
<polyline points="292.00,185.39 292.45,186.00 292.90,185.85 293.35,185.45 293.80,184.78 294.25,185.31 294.70,185.92 295.15,184.86 295.60,185.35 296.05,183.87 296.50,184.22 296.95,182.63 297.40,183.02 297.85,182.76 298.30,182.09 298.75,180.20 299.20,178.20 299.65,175.89 300.10,174.56 300.55,173.07 301.00,169.34 301.45,168.18 301.90,163.04 302.35,160.77 302.80,154.55 303.25,151.09 303.70,147.71 304.15,145.33 304.60,139.33 305.05,135.72 305.50,133.41 305.95,130.36 306.40,125.01 306.85,125.30 307.30,122.62 307.75,120.47 308.20,124.62 308.65,120.46 309.10,122.85 309.55,127.08 310.00,129.88 310.45,133.08 310.90,133.39 311.35,141.56 311.80,140.76 312.25,145.61 312.70,150.52 313.15,154.14 313.60,157.68 314.05,161.07 314.50,163.26 314.95,167.98 315.40,169.00 315.85,171.62 316.30,174.85 316.75,176.09 317.20,178.58 317.65,179.54 318.10,180.42 318.55,180.51 319.00,182.51 319.45,183.20 319.90,183.60 320.35,184.11 320.80,184.86 321.25,183.64 321.70,185.03 322.15,185.14 322.60,185.30 323.05,184.72 323.50,183.75 323.95,183.76 324.40,184.71 324.85,185.02 325.30,185.19 325.75,185.64 326.20,184.86 326.65,185.24 327.10,184.27 327.55,185.32 328.00,185.65 328.45,186.00 328.90,185.99 329.35,184.93 329.80,185.05 330.25,185.71 330.70,185.88 331.15,185.07 331.60,185.36 332.05,185.10 332.50,185.21 332.95,185.55 333.40,185.98 333.85,185.15 334.30,185.16 334.75,185.13 335.20,184.79 335.65,184.80 336.10,185.44 336.55,184.96 337.00,186.00 337.45,184.92 337.90,185.24 338.35,184.78 338.80,184.79 339.25,185.65 339.70,185.30 340.15,184.75 340.60,185.49 341.05,185.22 341.50,185.53 341.95,185.00 342.40,185.13 342.85,185.63 343.30,185.90 343.75,186.00 344.20,184.91 344.65,185.49 345.10,185.60 345.55,185.53 346.00,185.71 346.45,185.01 346.90,185.04 347.35,186.00 347.80,185.33 348.25,185.27 348.70,185.46 349.15,185.26 349.60,184.56 350.05,185.13 350.50,184.70 350.95,184.73 351.40,185.80 351.85,184.20 352.30,184.79 352.75,184.87 353.20,184.11 353.65,183.13 354.10,184.39 354.55,184.00 355.00,183.03 355.45,183.82 355.90,182.97 356.35,181.77 356.80,180.81 357.25,180.42 357.70,179.74 358.15,179.14 358.60,179.82 359.05,179.49 359.50,179.29 359.95,179.24 360.40,178.28 360.85,178.62 361.30,180.92 361.75,179.51 362.20,180.98 362.65,181.49 363.10,180.45 363.55,180.98 364.00,181.62 364.45,182.43 364.90,182.27 365.35,184.33 365.80,183.65 366.25,184.75 366.70,184.98 367.15,185.69 367.60,184.40 368.05,184.45 368.50,184.97 368.95,185.70 369.40,185.44 369.85,186.00 370.30,185.72 370.75,185.01 371.20,185.00 371.65,185.40 372.10,185.37 372.55,185.74 373.00,185.56 373.45,185.78 373.90,185.53" fill="none" stroke="#111" stroke-width="1.25" stroke-linejoin="round"/>
<polyline points="292.00,145.30 292.00,185.58 292.45,185.17 292.90,185.38 293.35,185.31 293.80,185.46 294.25,184.99 294.70,184.20 295.15,184.35 295.60,183.85 296.05,184.02 296.50,183.72 296.95,183.58 297.40,184.33 297.85,182.67 298.30,182.57 298.75,182.26 299.20,183.25 299.65,182.99 300.10,182.16 300.55,181.59 301.00,180.78 301.45,180.70 301.90,180.03 302.35,180.52 302.80,179.62 303.25,179.31 303.70,179.82 304.15,177.99 304.60,178.63 305.05,178.05 305.50,179.23 305.95,179.26 306.40,178.96 306.85,178.78 307.30,178.27 307.75,178.56 308.20,179.08 308.65,179.49 309.10,179.25 309.55,178.11 310.00,179.61 310.45,178.99 310.90,178.98 311.35,180.42 311.80,179.50 312.25,178.79 312.70,181.18 313.15,180.20 313.60,180.22 314.05,180.85 314.50,180.16 314.95,180.70 315.40,181.78 315.85,180.49 316.30,180.77 316.75,180.78 317.20,180.65 317.65,181.49 318.10,181.81 318.55,182.83 319.00,181.85 319.45,182.73 319.90,182.79 320.35,183.41 320.80,183.37 321.25,183.26 321.70,182.37 322.15,184.35 322.60,184.15 323.05,183.34 323.50,182.80 323.95,183.38 324.40,184.79 324.85,185.20 325.30,183.78 325.75,184.43 326.20,184.69 326.65,183.66 327.10,183.62 327.55,184.09 328.00,183.98 328.45,183.74 328.90,182.88 329.35,183.01 329.80,182.49 330.25,181.64 330.70,181.87 331.15,178.49 331.60,176.71 332.05,174.52 332.50,173.58 332.95,168.79 333.40,163.06 333.85,160.90 334.30,153.74 334.75,146.46 335.20,143.29 335.65,133.41 336.10,128.99 336.55,124.70 337.00,119.52 337.45,115.58 337.90,114.18 338.35,111.77 338.80,115.20 339.25,117.04 339.70,118.51 340.15,124.85 340.60,131.85 341.05,135.68 341.50,141.64 341.95,150.49 342.40,157.66 342.85,161.93 343.30,166.94 343.75,171.37 344.20,173.57 344.65,178.35 345.10,179.04 345.55,182.42 346.00,183.39 346.45,183.57 346.90,184.03 347.35,184.66 347.80,185.22 348.25,185.52 348.70,185.66 349.15,185.59 349.60,185.93 350.05,185.80 350.50,185.72 350.95,185.93 351.40,185.68 351.85,185.76 352.30,185.27 352.75,185.85 353.20,186.00 353.65,186.00 354.10,185.98 354.55,185.66 355.00,186.00 355.45,185.85 355.90,185.37 356.35,186.00 356.80,186.00 357.25,185.91 357.70,185.86 358.15,185.91 358.60,186.00 359.05,185.78 359.50,185.90 359.95,186.00 360.40,185.20 360.85,185.88 361.30,186.00 361.75,186.00 362.20,186.00 362.65,186.00 363.10,186.00 363.55,186.00 364.00,185.67 364.45,186.00 364.90,186.00 365.35,185.69 365.80,185.73 366.25,185.52 366.70,186.00 367.15,186.00 367.60,186.00 368.05,185.80 368.50,185.65 368.95,186.00 369.40,185.65 369.85,186.00 370.30,185.78 370.75,186.00 371.20,185.94 371.65,185.62 372.10,186.00 372.55,185.94 373.00,185.75 373.45,185.96 373.90,186.00" fill="none" stroke="#c42229" stroke-width="1.25" stroke-linejoin="round"/>
<line x1="292.00" y1="145.00" x2="292.00" y2="187.80" stroke="#c42229" stroke-width="1.4"/>
<text x="314.30" y="123.10" font-size="8.6" text-anchor="start" fill="#000" stroke="#000" stroke-width="0.2" transform="translate(314.30 123.10) scale(1 1.05) translate(-314.30 -123.10)">IgG</text>
<text x="348.00" y="134.00" font-size="8.6" text-anchor="start" fill="#c42229" stroke="#c42229" stroke-width="0.2" transform="translate(348.00 134.00) scale(1 1.05) translate(-348.00 -134.00)">ATG</text>
<rect x="390.30" y="105.30" width="83.30" height="83.20" fill="none" stroke="#888" stroke-width="0.8"/>
<line x1="390.30" y1="105.30" x2="390.30" y2="188.50" stroke="#444" stroke-width="1.0"/>
<line x1="389.30" y1="188.50" x2="390.30" y2="188.50" stroke="#444" stroke-width="0.6"/>
<line x1="389.30" y1="185.17" x2="390.30" y2="185.17" stroke="#444" stroke-width="0.6"/>
<line x1="389.30" y1="181.84" x2="390.30" y2="181.84" stroke="#444" stroke-width="0.6"/>
<line x1="389.30" y1="178.52" x2="390.30" y2="178.52" stroke="#444" stroke-width="0.6"/>
<line x1="389.30" y1="175.19" x2="390.30" y2="175.19" stroke="#444" stroke-width="0.6"/>
<line x1="389.30" y1="171.86" x2="390.30" y2="171.86" stroke="#444" stroke-width="0.6"/>
<line x1="389.30" y1="168.53" x2="390.30" y2="168.53" stroke="#444" stroke-width="0.6"/>
<line x1="389.30" y1="165.20" x2="390.30" y2="165.20" stroke="#444" stroke-width="0.6"/>
<line x1="389.30" y1="161.88" x2="390.30" y2="161.88" stroke="#444" stroke-width="0.6"/>
<line x1="389.30" y1="158.55" x2="390.30" y2="158.55" stroke="#444" stroke-width="0.6"/>
<line x1="389.30" y1="155.22" x2="390.30" y2="155.22" stroke="#444" stroke-width="0.6"/>
<line x1="389.30" y1="151.89" x2="390.30" y2="151.89" stroke="#444" stroke-width="0.6"/>
<line x1="389.30" y1="148.56" x2="390.30" y2="148.56" stroke="#444" stroke-width="0.6"/>
<line x1="389.30" y1="145.24" x2="390.30" y2="145.24" stroke="#444" stroke-width="0.6"/>
<line x1="389.30" y1="141.91" x2="390.30" y2="141.91" stroke="#444" stroke-width="0.6"/>
<line x1="389.30" y1="138.58" x2="390.30" y2="138.58" stroke="#444" stroke-width="0.6"/>
<line x1="389.30" y1="135.25" x2="390.30" y2="135.25" stroke="#444" stroke-width="0.6"/>
<line x1="389.30" y1="131.92" x2="390.30" y2="131.92" stroke="#444" stroke-width="0.6"/>
<line x1="389.30" y1="128.60" x2="390.30" y2="128.60" stroke="#444" stroke-width="0.6"/>
<line x1="389.30" y1="125.27" x2="390.30" y2="125.27" stroke="#444" stroke-width="0.6"/>
<line x1="389.30" y1="121.94" x2="390.30" y2="121.94" stroke="#444" stroke-width="0.6"/>
<line x1="389.30" y1="118.61" x2="390.30" y2="118.61" stroke="#444" stroke-width="0.6"/>
<line x1="389.30" y1="115.28" x2="390.30" y2="115.28" stroke="#444" stroke-width="0.6"/>
<line x1="389.30" y1="111.96" x2="390.30" y2="111.96" stroke="#444" stroke-width="0.6"/>
<line x1="389.30" y1="108.63" x2="390.30" y2="108.63" stroke="#444" stroke-width="0.6"/>
<line x1="389.30" y1="105.30" x2="390.30" y2="105.30" stroke="#444" stroke-width="0.6"/>
<line x1="387.70" y1="188.50" x2="390.30" y2="188.50" stroke="#444" stroke-width="0.7"/>
<text x="387.10" y="188.50" font-size="4.0" text-anchor="middle" fill="#333" stroke="#333" stroke-width="0.2" transform="rotate(-90 387.10 188.50) translate(387.10 188.50) scale(1 1.05) translate(-387.10 -188.50)">0</text>
<line x1="387.70" y1="171.86" x2="390.30" y2="171.86" stroke="#444" stroke-width="0.7"/>
<text x="387.10" y="171.86" font-size="4.0" text-anchor="middle" fill="#333" stroke="#333" stroke-width="0.2" transform="rotate(-90 387.10 171.86) translate(387.10 171.86) scale(1 1.05) translate(-387.10 -171.86)">40</text>
<line x1="387.70" y1="155.22" x2="390.30" y2="155.22" stroke="#444" stroke-width="0.7"/>
<text x="387.10" y="155.22" font-size="4.0" text-anchor="middle" fill="#333" stroke="#333" stroke-width="0.2" transform="rotate(-90 387.10 155.22) translate(387.10 155.22) scale(1 1.05) translate(-387.10 -155.22)">80</text>
<line x1="387.70" y1="138.58" x2="390.30" y2="138.58" stroke="#444" stroke-width="0.7"/>
<text x="387.10" y="138.58" font-size="4.0" text-anchor="middle" fill="#333" stroke="#333" stroke-width="0.2" transform="rotate(-90 387.10 138.58) translate(387.10 138.58) scale(1 1.05) translate(-387.10 -138.58)">120</text>
<line x1="387.70" y1="121.94" x2="390.30" y2="121.94" stroke="#444" stroke-width="0.7"/>
<text x="387.10" y="121.94" font-size="4.0" text-anchor="middle" fill="#333" stroke="#333" stroke-width="0.2" transform="rotate(-90 387.10 121.94) translate(387.10 121.94) scale(1 1.05) translate(-387.10 -121.94)">160</text>
<line x1="387.70" y1="105.30" x2="390.30" y2="105.30" stroke="#444" stroke-width="0.7"/>
<text x="387.10" y="105.30" font-size="4.0" text-anchor="middle" fill="#333" stroke="#333" stroke-width="0.2" transform="rotate(-90 387.10 105.30) translate(387.10 105.30) scale(1 1.05) translate(-387.10 -105.30)">200</text>
<line x1="390.30" y1="188.50" x2="390.30" y2="190.00" stroke="#555" stroke-width="0.6"/>
<text x="390.30" y="195.50" font-size="4.2" text-anchor="middle" fill="#333" stroke="#333" stroke-width="0.2" transform="translate(390.30 195.50) scale(1 1.05) translate(-390.30 -195.50)">10<tspan font-size="3" dy="-1.7">0</tspan></text>
<line x1="411.12" y1="188.50" x2="411.12" y2="190.00" stroke="#555" stroke-width="0.6"/>
<text x="411.12" y="195.50" font-size="4.2" text-anchor="middle" fill="#333" stroke="#333" stroke-width="0.2" transform="translate(411.12 195.50) scale(1 1.05) translate(-411.12 -195.50)">10<tspan font-size="3" dy="-1.7">1</tspan></text>
<line x1="431.95" y1="188.50" x2="431.95" y2="190.00" stroke="#555" stroke-width="0.6"/>
<text x="431.95" y="195.50" font-size="4.2" text-anchor="middle" fill="#333" stroke="#333" stroke-width="0.2" transform="translate(431.95 195.50) scale(1 1.05) translate(-431.95 -195.50)">10<tspan font-size="3" dy="-1.7">2</tspan></text>
<line x1="452.78" y1="188.50" x2="452.78" y2="190.00" stroke="#555" stroke-width="0.6"/>
<text x="452.78" y="195.50" font-size="4.2" text-anchor="middle" fill="#333" stroke="#333" stroke-width="0.2" transform="translate(452.78 195.50) scale(1 1.05) translate(-452.78 -195.50)">10<tspan font-size="3" dy="-1.7">3</tspan></text>
<line x1="473.60" y1="188.50" x2="473.60" y2="190.00" stroke="#555" stroke-width="0.6"/>
<text x="473.60" y="195.50" font-size="4.2" text-anchor="middle" fill="#333" stroke="#333" stroke-width="0.2" transform="translate(473.60 195.50) scale(1 1.05) translate(-473.60 -195.50)">10<tspan font-size="3" dy="-1.7">4</tspan></text>
<polyline points="390.30,173.30 390.30,186.68 390.75,186.00 391.20,186.45 391.65,186.44 392.10,186.59 392.55,186.67 393.00,186.57 393.45,186.80 393.90,186.80 394.35,186.80 394.80,186.80 395.25,186.64 395.70,186.50 396.15,186.06 396.60,186.42 397.05,186.42 397.50,186.14 397.95,186.25 398.40,186.80 398.85,185.21 399.30,185.51 399.75,184.60 400.20,184.12 400.65,181.24 401.10,181.03 401.55,179.94 402.00,179.18 402.45,175.30 402.90,174.04 403.35,168.97 403.80,167.85 404.25,162.27 404.70,156.51 405.15,153.59 405.60,147.13 406.05,141.58 406.50,134.96 406.95,131.54 407.40,124.67 407.85,117.83 408.30,119.29 408.75,115.04 409.20,110.55 409.65,111.01 410.10,111.83 410.55,107.93 411.00,110.20 411.45,112.29 411.90,115.39 412.35,119.65 412.80,126.19 413.25,133.00 413.70,133.67 414.15,140.83 414.60,144.30 415.05,148.78 415.50,155.47 415.95,158.80 416.40,160.70 416.85,165.53 417.30,171.21 417.75,172.83 418.20,175.24 418.65,177.01 419.10,178.79 419.55,180.95 420.00,182.35 420.45,182.71 420.90,184.89 421.35,184.11 421.80,185.08 422.25,185.89 422.70,186.22 423.15,186.07 423.60,186.80 424.05,186.80 424.50,186.41 424.95,186.06 425.40,186.73 425.85,186.68 426.30,186.73 426.75,186.80 427.20,186.61 427.65,186.48 428.10,186.75 428.55,186.46 429.00,186.80 429.45,186.69 429.90,186.80 430.35,186.80 430.80,186.69 431.25,186.72 431.70,186.50 432.15,186.56 432.60,186.80 433.05,186.36 433.50,186.80 433.95,186.80 434.40,186.69 434.85,186.80 435.30,186.63 435.75,186.78 436.20,186.80 436.65,186.53 437.10,186.80 437.55,186.80 438.00,186.78 438.45,186.80 438.90,186.69 439.35,186.80 439.80,186.74 440.25,186.80 440.70,186.28 441.15,186.80 441.60,186.39 442.05,186.80 442.50,186.43 442.95,186.05 443.40,186.80 443.85,186.75 444.30,186.80 444.75,186.80 445.20,186.80 445.65,186.77 446.10,186.50 446.55,186.51 447.00,186.80 447.45,186.75 447.90,186.80 448.35,186.61 448.80,186.80 449.25,186.80 449.70,186.80 450.15,186.61 450.60,186.77 451.05,186.58 451.50,186.80 451.95,186.74 452.40,186.80 452.85,186.80 453.30,186.80 453.75,186.78 454.20,186.80 454.65,186.35 455.10,185.74 455.55,185.90 456.00,186.33 456.45,186.69 456.90,186.06 457.35,186.01 457.80,185.32 458.25,184.41 458.70,184.62 459.15,184.90 459.60,182.80 460.05,183.01 460.50,181.64 460.95,182.52 461.40,179.81 461.85,181.84 462.30,180.58 462.75,179.87 463.20,182.10 463.65,180.87 464.10,181.54 464.55,179.49 465.00,180.51 465.45,182.01 465.90,182.97 466.35,183.44 466.80,182.75 467.25,183.85 467.70,183.67 468.15,184.64 468.60,185.68 469.05,184.25 469.50,185.26 469.95,186.11 470.40,186.17 470.85,185.64 471.30,186.02 471.75,186.80 472.20,186.00" fill="none" stroke="#111" stroke-width="1.25" stroke-linejoin="round"/>
<polyline points="390.30,173.30 390.30,186.80 390.75,186.70 391.20,186.33 391.65,186.23 392.10,186.34 392.55,186.71 393.00,186.59 393.45,186.77 393.90,186.80 394.35,186.79 394.80,186.21 395.25,186.42 395.70,186.58 396.15,186.80 396.60,186.32 397.05,186.43 397.50,186.04 397.95,185.71 398.40,186.80 398.85,185.65 399.30,186.13 399.75,185.69 400.20,185.64 400.65,184.22 401.10,184.20 401.55,184.05 402.00,184.48 402.45,184.63 402.90,183.80 403.35,183.23 403.80,183.17 404.25,182.52 404.70,182.96 405.15,181.50 405.60,182.06 406.05,181.14 406.50,182.15 406.95,182.42 407.40,182.80 407.85,181.82 408.30,181.75 408.75,182.39 409.20,182.36 409.65,182.91 410.10,183.16 410.55,183.25 411.00,184.34 411.45,183.99 411.90,183.54 412.35,183.63 412.80,183.20 413.25,183.55 413.70,183.71 414.15,183.93 414.60,185.19 415.05,183.83 415.50,184.24 415.95,183.29 416.40,183.52 416.85,183.30 417.30,183.12 417.75,182.64 418.20,183.32 418.65,182.73 419.10,180.52 419.55,180.60 420.00,180.78 420.45,180.31 420.90,179.95 421.35,177.05 421.80,178.66 422.25,178.76 422.70,179.03 423.15,180.11 423.60,178.20 424.05,177.24 424.50,177.59 424.95,178.15 425.40,178.88 425.85,179.44 426.30,178.69 426.75,179.24 427.20,179.98 427.65,178.24 428.10,180.31 428.55,180.28 429.00,181.78 429.45,179.24 429.90,180.74 430.35,180.90 430.80,180.86 431.25,181.78 431.70,181.79 432.15,181.35 432.60,182.19 433.05,181.58 433.50,181.11 433.95,181.49 434.40,181.17 434.85,181.45 435.30,181.08 435.75,181.99 436.20,181.85 436.65,182.67 437.10,181.85 437.55,181.78 438.00,180.71 438.45,180.44 438.90,178.16 439.35,174.65 439.80,175.02 440.25,171.05 440.70,167.55 441.15,164.84 441.60,159.85 442.05,155.08 442.50,148.57 442.95,144.35 443.40,134.64 443.85,131.70 444.30,126.64 444.75,121.32 445.20,119.62 445.65,120.20 446.10,119.17 446.55,120.58 447.00,122.36 447.45,124.53 447.90,132.78 448.35,137.05 448.80,140.47 449.25,144.99 449.70,151.65 450.15,156.64 450.60,160.30 451.05,165.38 451.50,170.20 451.95,173.90 452.40,177.74 452.85,178.69 453.30,180.94 453.75,183.15 454.20,183.48 454.65,184.85 455.10,185.49 455.55,186.56 456.00,185.75 456.45,186.68 456.90,186.41 457.35,186.55 457.80,186.80 458.25,186.77 458.70,186.80 459.15,186.80 459.60,186.74 460.05,186.80 460.50,186.59 460.95,186.78 461.40,186.80 461.85,186.69 462.30,186.80 462.75,186.67 463.20,186.80 463.65,186.71 464.10,186.80 464.55,186.80 465.00,185.82 465.45,186.62 465.90,186.50 466.35,186.80 466.80,186.80 467.25,186.80 467.70,186.70 468.15,186.80 468.60,186.80 469.05,186.80 469.50,186.80 469.95,186.32 470.40,186.80 470.85,186.80 471.30,186.80 471.75,186.80 472.20,186.80" fill="none" stroke="#266c32" stroke-width="1.25" stroke-linejoin="round"/>
<line x1="390.30" y1="172.50" x2="390.30" y2="188.50" stroke="#222" stroke-width="1.4"/>
<text x="419.20" y="123.60" font-size="8.6" text-anchor="start" fill="#000" stroke="#000" stroke-width="0.2" transform="translate(419.20 123.60) scale(1 1.05) translate(-419.20 -123.60)">IgG</text>
<text x="451.60" y="118.80" font-size="8.6" text-anchor="start" fill="#266c32" stroke="#266c32" stroke-width="0.2" transform="translate(451.60 118.80) scale(1 1.05) translate(-451.60 -118.80)">ATG</text>
<text x="278.20" y="54.50" font-size="9.75" text-anchor="middle" fill="#000" stroke="#000" stroke-width="0.3" transform="rotate(-90 278.20 54.50) translate(278.20 54.50) scale(1 1.05) translate(-278.20 -54.50)">Cell count</text>
<text x="278.20" y="147.30" font-size="9.75" text-anchor="middle" fill="#000" stroke="#000" stroke-width="0.3" transform="rotate(-90 278.20 147.30) translate(278.20 147.30) scale(1 1.05) translate(-278.20 -147.30)">Cell count</text>
<text x="334.00" y="206.20" font-size="9.75" text-anchor="middle" fill="#000" stroke="#000" stroke-width="0.3" transform="translate(334.00 206.20) scale(1 1.05) translate(-334.00 -206.20)">Annexin V staining</text>
<text x="431.10" y="206.20" font-size="9.75" text-anchor="middle" fill="#000" stroke="#000" stroke-width="0.3" transform="translate(431.10 206.20) scale(1 1.05) translate(-431.10 -206.20)">Lactadherin staining</text>
<line x1="62.90" y1="264.50" x2="62.90" y2="397.60" stroke="#000" stroke-width="1"/>
<line x1="62.50" y1="397.20" x2="216.50" y2="397.20" stroke="#000" stroke-width="1"/>
<line x1="60.00" y1="397.20" x2="62.90" y2="397.20" stroke="#000" stroke-width="1"/>
<text x="54.50" y="400.60" font-size="9.7" text-anchor="end" fill="#000" stroke="#000" stroke-width="0.3" transform="translate(54.50 400.60) scale(1 1.05) translate(-54.50 -400.60)">0</text>
<line x1="60.00" y1="364.00" x2="62.90" y2="364.00" stroke="#000" stroke-width="1"/>
<text x="54.50" y="367.40" font-size="9.7" text-anchor="end" fill="#000" stroke="#000" stroke-width="0.3" transform="translate(54.50 367.40) scale(1 1.05) translate(-54.50 -367.40)">4000</text>
<line x1="60.00" y1="330.80" x2="62.90" y2="330.80" stroke="#000" stroke-width="1"/>
<text x="54.50" y="334.20" font-size="9.7" text-anchor="end" fill="#000" stroke="#000" stroke-width="0.3" transform="translate(54.50 334.20) scale(1 1.05) translate(-54.50 -334.20)">8000</text>
<line x1="60.00" y1="297.60" x2="62.90" y2="297.60" stroke="#000" stroke-width="1"/>
<text x="54.50" y="301.00" font-size="9.7" text-anchor="end" fill="#000" stroke="#000" stroke-width="0.3" transform="translate(54.50 301.00) scale(1 1.05) translate(-54.50 -301.00)">12000</text>
<line x1="60.00" y1="264.40" x2="62.90" y2="264.40" stroke="#000" stroke-width="1"/>
<text x="54.50" y="267.80" font-size="9.7" text-anchor="end" fill="#000" stroke="#000" stroke-width="0.3" transform="translate(54.50 267.80) scale(1 1.05) translate(-54.50 -267.80)">16000</text>
<line x1="63.00" y1="397.20" x2="63.00" y2="400.20" stroke="#000" stroke-width="1"/>
<text x="63.00" y="412.40" font-size="9.5" text-anchor="middle" fill="#000" stroke="#000" stroke-width="0.3" transform="translate(63.00 412.40) scale(1 1.05) translate(-63.00 -412.40)">0</text>
<line x1="93.50" y1="397.20" x2="93.50" y2="400.20" stroke="#000" stroke-width="1"/>
<text x="93.50" y="412.40" font-size="9.5" text-anchor="middle" fill="#000" stroke="#000" stroke-width="0.3" transform="translate(93.50 412.40) scale(1 1.05) translate(-93.50 -412.40)">20</text>
<line x1="124.00" y1="397.20" x2="124.00" y2="400.20" stroke="#000" stroke-width="1"/>
<text x="124.00" y="412.40" font-size="9.5" text-anchor="middle" fill="#000" stroke="#000" stroke-width="0.3" transform="translate(124.00 412.40) scale(1 1.05) translate(-124.00 -412.40)">40</text>
<line x1="154.50" y1="397.20" x2="154.50" y2="400.20" stroke="#000" stroke-width="1"/>
<text x="154.50" y="412.40" font-size="9.5" text-anchor="middle" fill="#000" stroke="#000" stroke-width="0.3" transform="translate(154.50 412.40) scale(1 1.05) translate(-154.50 -412.40)">60</text>
<line x1="185.00" y1="397.20" x2="185.00" y2="400.20" stroke="#000" stroke-width="1"/>
<text x="185.00" y="412.40" font-size="9.5" text-anchor="middle" fill="#000" stroke="#000" stroke-width="0.3" transform="translate(185.00 412.40) scale(1 1.05) translate(-185.00 -412.40)">80</text>
<line x1="215.50" y1="397.20" x2="215.50" y2="400.20" stroke="#000" stroke-width="1"/>
<text x="215.50" y="412.40" font-size="9.5" text-anchor="middle" fill="#000" stroke="#000" stroke-width="0.3" transform="translate(215.50 412.40) scale(1 1.05) translate(-215.50 -412.40)">100</text>
<line x1="100.80" y1="263.90" x2="100.80" y2="397.00" stroke="#555" stroke-width="1.6" stroke-dasharray="3.9,3.0"/>
<text x="140.40" y="426.80" font-size="9.75" text-anchor="middle" fill="#000" stroke="#000" stroke-width="0.3" transform="translate(140.40 426.80) scale(1 1.05) translate(-140.40 -426.80)">PS exposure (% positive cells)</text>
<text x="20.9" y="331.4" font-size="9.78" text-anchor="middle" stroke="#000" stroke-width="0.3" transform="rotate(-90 20.90 331.40) translate(20.90 331.40) scale(1 1.05) translate(-20.90 -331.40)">PCA (units/10<tspan font-size="6.5" dy="-3.8">6</tspan><tspan dy="3.8"> cells)</tspan></text>
<circle cx="63.80" cy="394.90" r="3.2" fill="#fff" stroke="#000" stroke-width="1.0"/>
<circle cx="66.20" cy="395.90" r="3.2" fill="#fff" stroke="#000" stroke-width="1.0"/>
<circle cx="67.60" cy="396.30" r="3.2" fill="#fff" stroke="#000" stroke-width="1.0"/>
<circle cx="72.00" cy="395.40" r="3.2" fill="#fff" stroke="#000" stroke-width="1.0"/>
<circle cx="76.30" cy="396.30" r="3.2" fill="#fff" stroke="#000" stroke-width="1.0"/>
<circle cx="80.30" cy="391.50" r="3.2" fill="#fff" stroke="#000" stroke-width="1.0"/>
<circle cx="83.80" cy="395.40" r="3.2" fill="#fff" stroke="#000" stroke-width="1.0"/>
<circle cx="88.80" cy="396.30" r="3.2" fill="#fff" stroke="#000" stroke-width="1.0"/>
<circle cx="91.80" cy="392.00" r="3.2" fill="#fff" stroke="#000" stroke-width="1.0"/>
<circle cx="96.00" cy="394.40" r="3.2" fill="#fff" stroke="#000" stroke-width="1.0"/>
<circle cx="97.40" cy="395.40" r="3.2" fill="#fff" stroke="#000" stroke-width="1.0"/>
<circle cx="68.20" cy="273.50" r="3.7" fill="#000" stroke="none" stroke-width="0"/>
<circle cx="81.50" cy="325.20" r="3.7" fill="#000" stroke="none" stroke-width="0"/>
<circle cx="84.00" cy="342.00" r="3.7" fill="#000" stroke="none" stroke-width="0"/>
<circle cx="92.10" cy="347.30" r="3.7" fill="#000" stroke="none" stroke-width="0"/>
<circle cx="75.80" cy="353.10" r="3.7" fill="#000" stroke="none" stroke-width="0"/>
<circle cx="84.40" cy="372.30" r="3.7" fill="#000" stroke="none" stroke-width="0"/>
<circle cx="91.20" cy="376.50" r="3.7" fill="#000" stroke="none" stroke-width="0"/>
<circle cx="70.00" cy="384.00" r="3.7" fill="#000" stroke="none" stroke-width="0"/>
<circle cx="106.20" cy="373.10" r="3.7" fill="#000" stroke="none" stroke-width="0"/>
<circle cx="117.00" cy="311.30" r="3.7" fill="#000" stroke="none" stroke-width="0"/>
<circle cx="170.75" cy="309.30" r="3.7" fill="#000" stroke="none" stroke-width="0"/>
<circle cx="162.50" cy="333.00" r="3.7" fill="#000" stroke="none" stroke-width="0"/>
<circle cx="134.50" cy="337.30" r="3.7" fill="#000" stroke="none" stroke-width="0"/>
<circle cx="190.50" cy="341.30" r="3.7" fill="#000" stroke="none" stroke-width="0"/>
<circle cx="153.75" cy="345.30" r="3.7" fill="#000" stroke="none" stroke-width="0"/>
<circle cx="125.00" cy="348.00" r="3.7" fill="#000" stroke="none" stroke-width="0"/>
<circle cx="125.00" cy="353.60" r="3.7" fill="#000" stroke="none" stroke-width="0"/>
<circle cx="183.00" cy="353.60" r="3.7" fill="#000" stroke="none" stroke-width="0"/>
<circle cx="127.50" cy="367.80" r="3.7" fill="#000" stroke="none" stroke-width="0"/>
<circle cx="120.00" cy="373.00" r="3.7" fill="#000" stroke="none" stroke-width="0"/>
<circle cx="155.50" cy="375.00" r="3.7" fill="#000" stroke="none" stroke-width="0"/>
<circle cx="166.25" cy="381.00" r="3.7" fill="#000" stroke="none" stroke-width="0"/>
<rect x="164.5" y="264.5" width="31" height="23" fill="#fff" stroke="#333" stroke-width="1"/>
<circle cx="170.80" cy="271.20" r="2.9" fill="#fff" stroke="#000" stroke-width="1.0"/>
<circle cx="171.00" cy="280.80" r="3.3" fill="#000" stroke="none" stroke-width="0"/>
<text x="176.30" y="273.90" font-size="7.9" text-anchor="start" fill="#000" stroke="#000" stroke-width="0.2" transform="translate(176.30 273.90) scale(1 1.05) translate(-176.30 -273.90)">IgG</text>
<text x="176.30" y="283.40" font-size="7.9" text-anchor="start" fill="#000" stroke="#000" stroke-width="0.2" transform="translate(176.30 283.40) scale(1 1.05) translate(-176.30 -283.40)">ATG</text>
<rect x="260.50" y="232.80" width="86.30" height="82.70" fill="none" stroke="#888" stroke-width="0.8"/>
<line x1="260.50" y1="232.80" x2="260.50" y2="315.50" stroke="#444" stroke-width="1.0"/>
<line x1="259.50" y1="315.50" x2="260.50" y2="315.50" stroke="#444" stroke-width="0.6"/>
<line x1="259.50" y1="312.19" x2="260.50" y2="312.19" stroke="#444" stroke-width="0.6"/>
<line x1="259.50" y1="308.88" x2="260.50" y2="308.88" stroke="#444" stroke-width="0.6"/>
<line x1="259.50" y1="305.58" x2="260.50" y2="305.58" stroke="#444" stroke-width="0.6"/>
<line x1="259.50" y1="302.27" x2="260.50" y2="302.27" stroke="#444" stroke-width="0.6"/>
<line x1="259.50" y1="298.96" x2="260.50" y2="298.96" stroke="#444" stroke-width="0.6"/>
<line x1="259.50" y1="295.65" x2="260.50" y2="295.65" stroke="#444" stroke-width="0.6"/>
<line x1="259.50" y1="292.34" x2="260.50" y2="292.34" stroke="#444" stroke-width="0.6"/>
<line x1="259.50" y1="289.04" x2="260.50" y2="289.04" stroke="#444" stroke-width="0.6"/>
<line x1="259.50" y1="285.73" x2="260.50" y2="285.73" stroke="#444" stroke-width="0.6"/>
<line x1="259.50" y1="282.42" x2="260.50" y2="282.42" stroke="#444" stroke-width="0.6"/>
<line x1="259.50" y1="279.11" x2="260.50" y2="279.11" stroke="#444" stroke-width="0.6"/>
<line x1="259.50" y1="275.80" x2="260.50" y2="275.80" stroke="#444" stroke-width="0.6"/>
<line x1="259.50" y1="272.50" x2="260.50" y2="272.50" stroke="#444" stroke-width="0.6"/>
<line x1="259.50" y1="269.19" x2="260.50" y2="269.19" stroke="#444" stroke-width="0.6"/>
<line x1="259.50" y1="265.88" x2="260.50" y2="265.88" stroke="#444" stroke-width="0.6"/>
<line x1="259.50" y1="262.57" x2="260.50" y2="262.57" stroke="#444" stroke-width="0.6"/>
<line x1="259.50" y1="259.26" x2="260.50" y2="259.26" stroke="#444" stroke-width="0.6"/>
<line x1="259.50" y1="255.96" x2="260.50" y2="255.96" stroke="#444" stroke-width="0.6"/>
<line x1="259.50" y1="252.65" x2="260.50" y2="252.65" stroke="#444" stroke-width="0.6"/>
<line x1="259.50" y1="249.34" x2="260.50" y2="249.34" stroke="#444" stroke-width="0.6"/>
<line x1="259.50" y1="246.03" x2="260.50" y2="246.03" stroke="#444" stroke-width="0.6"/>
<line x1="259.50" y1="242.72" x2="260.50" y2="242.72" stroke="#444" stroke-width="0.6"/>
<line x1="259.50" y1="239.42" x2="260.50" y2="239.42" stroke="#444" stroke-width="0.6"/>
<line x1="259.50" y1="236.11" x2="260.50" y2="236.11" stroke="#444" stroke-width="0.6"/>
<line x1="259.50" y1="232.80" x2="260.50" y2="232.80" stroke="#444" stroke-width="0.6"/>
<line x1="257.90" y1="315.50" x2="260.50" y2="315.50" stroke="#444" stroke-width="0.7"/>
<text x="257.30" y="315.50" font-size="4.0" text-anchor="middle" fill="#333" stroke="#333" stroke-width="0.2" transform="rotate(-90 257.30 315.50) translate(257.30 315.50) scale(1 1.05) translate(-257.30 -315.50)">0</text>
<line x1="257.90" y1="298.96" x2="260.50" y2="298.96" stroke="#444" stroke-width="0.7"/>
<text x="257.30" y="298.96" font-size="4.0" text-anchor="middle" fill="#333" stroke="#333" stroke-width="0.2" transform="rotate(-90 257.30 298.96) translate(257.30 298.96) scale(1 1.05) translate(-257.30 -298.96)">40</text>
<line x1="257.90" y1="282.42" x2="260.50" y2="282.42" stroke="#444" stroke-width="0.7"/>
<text x="257.30" y="282.42" font-size="4.0" text-anchor="middle" fill="#333" stroke="#333" stroke-width="0.2" transform="rotate(-90 257.30 282.42) translate(257.30 282.42) scale(1 1.05) translate(-257.30 -282.42)">80</text>
<line x1="257.90" y1="265.88" x2="260.50" y2="265.88" stroke="#444" stroke-width="0.7"/>
<text x="257.30" y="265.88" font-size="4.0" text-anchor="middle" fill="#333" stroke="#333" stroke-width="0.2" transform="rotate(-90 257.30 265.88) translate(257.30 265.88) scale(1 1.05) translate(-257.30 -265.88)">120</text>
<line x1="257.90" y1="249.34" x2="260.50" y2="249.34" stroke="#444" stroke-width="0.7"/>
<text x="257.30" y="249.34" font-size="4.0" text-anchor="middle" fill="#333" stroke="#333" stroke-width="0.2" transform="rotate(-90 257.30 249.34) translate(257.30 249.34) scale(1 1.05) translate(-257.30 -249.34)">160</text>
<line x1="257.90" y1="232.80" x2="260.50" y2="232.80" stroke="#444" stroke-width="0.7"/>
<text x="257.30" y="232.80" font-size="4.0" text-anchor="middle" fill="#333" stroke="#333" stroke-width="0.2" transform="rotate(-90 257.30 232.80) translate(257.30 232.80) scale(1 1.05) translate(-257.30 -232.80)">200</text>
<line x1="260.50" y1="315.50" x2="260.50" y2="317.00" stroke="#555" stroke-width="0.6"/>
<text x="260.50" y="322.50" font-size="4.2" text-anchor="middle" fill="#333" stroke="#333" stroke-width="0.2" transform="translate(260.50 322.50) scale(1 1.05) translate(-260.50 -322.50)">10<tspan font-size="3" dy="-1.7">0</tspan></text>
<line x1="282.07" y1="315.50" x2="282.07" y2="317.00" stroke="#555" stroke-width="0.6"/>
<text x="282.07" y="322.50" font-size="4.2" text-anchor="middle" fill="#333" stroke="#333" stroke-width="0.2" transform="translate(282.07 322.50) scale(1 1.05) translate(-282.07 -322.50)">10<tspan font-size="3" dy="-1.7">1</tspan></text>
<line x1="303.65" y1="315.50" x2="303.65" y2="317.00" stroke="#555" stroke-width="0.6"/>
<text x="303.65" y="322.50" font-size="4.2" text-anchor="middle" fill="#333" stroke="#333" stroke-width="0.2" transform="translate(303.65 322.50) scale(1 1.05) translate(-303.65 -322.50)">10<tspan font-size="3" dy="-1.7">2</tspan></text>
<line x1="325.23" y1="315.50" x2="325.23" y2="317.00" stroke="#555" stroke-width="0.6"/>
<text x="325.23" y="322.50" font-size="4.2" text-anchor="middle" fill="#333" stroke="#333" stroke-width="0.2" transform="translate(325.23 322.50) scale(1 1.05) translate(-325.23 -322.50)">10<tspan font-size="3" dy="-1.7">3</tspan></text>
<line x1="346.80" y1="315.50" x2="346.80" y2="317.00" stroke="#555" stroke-width="0.6"/>
<text x="346.80" y="322.50" font-size="4.2" text-anchor="middle" fill="#333" stroke="#333" stroke-width="0.2" transform="translate(346.80 322.50) scale(1 1.05) translate(-346.80 -322.50)">10<tspan font-size="3" dy="-1.7">4</tspan></text>
<polyline points="260.50,277.80 260.50,313.00 260.95,313.00 261.40,313.00 261.85,313.00 262.30,312.71 262.75,313.00 263.20,313.00 263.65,313.00 264.10,313.00 264.55,312.98 265.00,312.93 265.45,312.05 265.90,312.81 266.35,312.92 266.80,312.60 267.25,313.00 267.70,313.00 268.15,312.69 268.60,313.00 269.05,313.00 269.50,313.00 269.95,313.00 270.40,312.41 270.85,312.35 271.30,311.80 271.75,312.87 272.20,312.79 272.65,312.70 273.10,312.26 273.55,312.28 274.00,311.61 274.45,311.68 274.90,311.63 275.35,309.08 275.80,309.03 276.25,306.28 276.70,305.10 277.15,301.95 277.60,300.04 278.05,295.35 278.50,289.17 278.95,283.42 279.40,278.30 279.85,271.48 280.30,267.62 280.75,258.89 281.20,254.18 281.65,249.86 282.10,244.08 282.55,242.94 283.00,242.80 283.45,242.69 283.90,244.59 284.35,247.51 284.80,251.07 285.25,256.69 285.70,260.29 286.15,265.26 286.60,271.89 287.05,279.22 287.50,284.92 287.95,288.78 288.40,293.79 288.85,296.22 289.30,300.50 289.75,303.03 290.20,305.96 290.65,307.16 291.10,309.28 291.55,310.46 292.00,310.22 292.45,311.45 292.90,311.54 293.35,311.05 293.80,310.89 294.25,311.73 294.70,312.03 295.15,311.50 295.60,311.43 296.05,311.64 296.50,312.29 296.95,312.11 297.40,311.40 297.85,312.38 298.30,311.83 298.75,311.28 299.20,311.37 299.65,312.15 300.10,311.97 300.55,311.93 301.00,312.35 301.45,311.79 301.90,312.22 302.35,311.53 302.80,312.32 303.25,312.12 303.70,312.10 304.15,311.80 304.60,312.98 305.05,311.38 305.50,311.94 305.95,311.77 306.40,311.26 306.85,311.83 307.30,311.65 307.75,311.79 308.20,311.46 308.65,311.55 309.10,311.34 309.55,311.91 310.00,312.38 310.45,311.78 310.90,312.42 311.35,311.93 311.80,312.08 312.25,312.92 312.70,312.11 313.15,312.43 313.60,312.58 314.05,312.80 314.50,311.81 314.95,311.74 315.40,312.54 315.85,312.51 316.30,312.43 316.75,312.54 317.20,311.83 317.65,312.54 318.10,311.69 318.55,313.00 319.00,312.94 319.45,311.78 319.90,312.33 320.35,313.00 320.80,311.22 321.25,311.90 321.70,312.07 322.15,313.00 322.60,311.85 323.05,312.26 323.50,312.35 323.95,312.46 324.40,313.00 324.85,312.82 325.30,312.13 325.75,311.90 326.20,312.04 326.65,312.16 327.10,312.26 327.55,312.13 328.00,311.42 328.45,312.34 328.90,313.00 329.35,312.19 329.80,312.54 330.25,312.86 330.70,312.94 331.15,312.09 331.60,312.71 332.05,312.52 332.50,312.80 332.95,311.97 333.40,312.63 333.85,312.64 334.30,313.00 334.75,312.99 335.20,312.03 335.65,312.90 336.10,312.07 336.55,312.29 337.00,312.36 337.45,312.41 337.90,312.51 338.35,312.04 338.80,312.48 339.25,313.00 339.70,312.65 340.15,311.91 340.60,313.00 341.05,312.57 341.50,312.59 341.95,312.12 342.40,312.93 342.85,312.02 343.30,313.00 343.75,312.54 344.20,313.00 344.65,312.54 345.10,312.85 345.55,313.00" fill="none" stroke="#111" stroke-width="1.25" stroke-linejoin="round"/>
<polyline points="260.50,277.80 260.50,313.00 260.95,312.84 261.40,312.62 261.85,313.00 262.30,313.00 262.75,312.98 263.20,312.78 263.65,312.56 264.10,313.00 264.55,313.00 265.00,312.69 265.45,312.76 265.90,312.38 266.35,312.57 266.80,312.95 267.25,313.00 267.70,311.97 268.15,312.99 268.60,313.00 269.05,313.00 269.50,312.80 269.95,312.74 270.40,312.88 270.85,312.71 271.30,312.47 271.75,312.15 272.20,311.77 272.65,311.88 273.10,312.48 273.55,310.74 274.00,311.21 274.45,309.65 274.90,309.33 275.35,306.98 275.80,305.75 276.25,302.85 276.70,297.68 277.15,297.39 277.60,293.03 278.05,291.20 278.50,285.82 278.95,280.07 279.40,276.02 279.85,270.43 280.30,265.80 280.75,262.56 281.20,256.08 281.65,254.27 282.10,247.35 282.55,248.65 283.00,245.68 283.45,246.49 283.90,245.58 284.35,249.01 284.80,248.36 285.25,252.23 285.70,252.98 286.15,257.01 286.60,261.11 287.05,266.00 287.50,267.81 287.95,272.10 288.40,274.62 288.85,280.80 289.30,283.43 289.75,286.98 290.20,290.48 290.65,293.56 291.10,296.32 291.55,299.44 292.00,301.92 292.45,303.30 292.90,304.20 293.35,304.97 293.80,306.56 294.25,307.52 294.70,308.53 295.15,309.26 295.60,310.09 296.05,310.20 296.50,310.03 296.95,311.38 297.40,311.76 297.85,310.61 298.30,311.56 298.75,311.31 299.20,311.42 299.65,312.41 300.10,310.78 300.55,311.12 301.00,311.88 301.45,311.63 301.90,311.93 302.35,312.41 302.80,312.06 303.25,311.85 303.70,311.52 304.15,311.71 304.60,312.02 305.05,311.44 305.50,312.41 305.95,311.72 306.40,311.58 306.85,312.23 307.30,312.92 307.75,312.53 308.20,312.03 308.65,311.92 309.10,311.48 309.55,312.63 310.00,312.20 310.45,311.93 310.90,312.30 311.35,313.00 311.80,311.91 312.25,311.27 312.70,311.86 313.15,312.72 313.60,312.52 314.05,312.26 314.50,311.31 314.95,312.13 315.40,312.36 315.85,311.77 316.30,312.48 316.75,311.68 317.20,312.77 317.65,312.70 318.10,312.22 318.55,311.95 319.00,312.28 319.45,312.45 319.90,313.00 320.35,312.89 320.80,312.86 321.25,312.85 321.70,312.41 322.15,312.80 322.60,312.37 323.05,312.66 323.50,312.84 323.95,312.67 324.40,312.57 324.85,312.41 325.30,312.94 325.75,312.86 326.20,313.00 326.65,312.18 327.10,312.25 327.55,312.88 328.00,313.00 328.45,313.00 328.90,312.78 329.35,312.78 329.80,312.06 330.25,312.78 330.70,313.00 331.15,313.00 331.60,312.38 332.05,312.83 332.50,313.00 332.95,312.85 333.40,313.00 333.85,311.68 334.30,312.53 334.75,312.73 335.20,313.00 335.65,313.00 336.10,312.99 336.55,313.00 337.00,312.75 337.45,313.00 337.90,313.00 338.35,312.54 338.80,312.40 339.25,313.00 339.70,313.00 340.15,312.67 340.60,312.69 341.05,313.00 341.50,313.00 341.95,313.00 342.40,313.00 342.85,313.00 343.30,312.57 343.75,312.76 344.20,312.31 344.65,313.00 345.10,313.00 345.55,313.00" fill="none" stroke="#266c32" stroke-width="1.25" stroke-linejoin="round"/>
<polyline points="260.50,292.80 260.50,313.00 260.95,312.93 261.40,313.00 261.85,313.00 262.30,312.69 262.75,312.98 263.20,313.00 263.65,312.43 264.10,313.00 264.55,313.00 265.00,313.00 265.45,313.00 265.90,312.79 266.35,312.72 266.80,312.63 267.25,312.39 267.70,312.43 268.15,312.77 268.60,312.54 269.05,312.76 269.50,313.00 269.95,312.68 270.40,312.94 270.85,313.00 271.30,312.24 271.75,312.65 272.20,313.00 272.65,312.92 273.10,312.02 273.55,312.94 274.00,312.55 274.45,312.56 274.90,312.56 275.35,312.48 275.80,312.86 276.25,312.80 276.70,312.62 277.15,312.63 277.60,312.05 278.05,311.64 278.50,312.62 278.95,311.87 279.40,312.46 279.85,312.21 280.30,311.87 280.75,311.56 281.20,311.69 281.65,312.64 282.10,310.45 282.55,311.15 283.00,311.19 283.45,310.32 283.90,310.86 284.35,311.17 284.80,309.95 285.25,309.85 285.70,310.43 286.15,309.36 286.60,309.52 287.05,310.31 287.50,308.55 287.95,309.36 288.40,310.16 288.85,309.20 289.30,309.39 289.75,308.90 290.20,310.28 290.65,308.89 291.10,308.97 291.55,309.14 292.00,309.22 292.45,308.84 292.90,309.23 293.35,309.62 293.80,310.22 294.25,309.14 294.70,309.28 295.15,309.73 295.60,309.87 296.05,309.61 296.50,311.52 296.95,309.98 297.40,311.63 297.85,310.17 298.30,309.79 298.75,309.41 299.20,310.79 299.65,310.38 300.10,310.73 300.55,311.96 301.00,310.46 301.45,310.94 301.90,310.97 302.35,311.57 302.80,311.18 303.25,311.19 303.70,310.66 304.15,311.23 304.60,309.71 305.05,311.72 305.50,311.71 305.95,311.67 306.40,312.10 306.85,311.03 307.30,311.50 307.75,312.46 308.20,311.84 308.65,311.39 309.10,312.62 309.55,311.91 310.00,312.11 310.45,310.92 310.90,311.81 311.35,312.18 311.80,312.22 312.25,311.04 312.70,312.10 313.15,310.73 313.60,312.50 314.05,311.75 314.50,311.68 314.95,311.79 315.40,311.41 315.85,310.79 316.30,311.33 316.75,311.55 317.20,309.85 317.65,309.54 318.10,310.50 318.55,309.67 319.00,311.09 319.45,308.66 319.90,309.79 320.35,309.01 320.80,306.96 321.25,308.81 321.70,307.63 322.15,308.00 322.60,308.18 323.05,307.34 323.50,305.94 323.95,306.61 324.40,305.59 324.85,303.99 325.30,303.86 325.75,303.76 326.20,300.20 326.65,299.61 327.10,296.29 327.55,295.81 328.00,289.86 328.45,289.09 328.90,285.26 329.35,279.10 329.80,274.20 330.25,268.67 330.70,265.43 331.15,260.17 331.60,256.46 332.05,257.63 332.50,258.13 332.95,257.08 333.40,256.47 333.85,258.32 334.30,262.41 334.75,266.30 335.20,268.55 335.65,271.28 336.10,277.58 336.55,279.60 337.00,285.14 337.45,289.23 337.90,294.01 338.35,295.72 338.80,300.06 339.25,303.98 339.70,304.50 340.15,307.25 340.60,307.78 341.05,309.52 341.50,310.85 341.95,311.07 342.40,311.88 342.85,312.37 343.30,312.23 343.75,312.06 344.20,312.52 344.65,312.68 345.10,312.94 345.55,312.55" fill="none" stroke="#c42229" stroke-width="1.25" stroke-linejoin="round"/>
<polyline points="260.50,292.80 260.50,313.00 260.95,312.52 261.40,313.00 261.85,313.00 262.30,312.91 262.75,312.79 263.20,312.86 263.65,312.82 264.10,313.00 264.55,313.00 265.00,313.00 265.45,313.00 265.90,313.00 266.35,312.67 266.80,312.77 267.25,313.00 267.70,312.74 268.15,312.97 268.60,312.59 269.05,312.46 269.50,312.77 269.95,313.00 270.40,312.72 270.85,313.00 271.30,312.39 271.75,313.00 272.20,312.98 272.65,312.25 273.10,313.00 273.55,312.85 274.00,313.00 274.45,313.00 274.90,313.00 275.35,312.49 275.80,312.83 276.25,312.52 276.70,312.34 277.15,313.00 277.60,311.88 278.05,312.49 278.50,313.00 278.95,312.49 279.40,311.69 279.85,311.50 280.30,312.16 280.75,311.64 281.20,311.42 281.65,310.86 282.10,311.28 282.55,310.52 283.00,311.32 283.45,311.05 283.90,310.10 284.35,309.87 284.80,310.11 285.25,309.54 285.70,309.58 286.15,309.07 286.60,308.65 287.05,308.88 287.50,308.54 287.95,309.15 288.40,309.14 288.85,310.16 289.30,308.36 289.75,308.53 290.20,308.17 290.65,309.64 291.10,308.73 291.55,308.73 292.00,309.49 292.45,307.72 292.90,307.48 293.35,309.03 293.80,307.89 294.25,307.02 294.70,308.86 295.15,307.39 295.60,306.94 296.05,306.70 296.50,308.73 296.95,308.47 297.40,307.55 297.85,306.81 298.30,308.34 298.75,307.90 299.20,308.03 299.65,306.41 300.10,307.40 300.55,306.48 301.00,306.26 301.45,305.73 301.90,306.05 302.35,305.91 302.80,305.10 303.25,305.36 303.70,306.37 304.15,305.59 304.60,304.25 305.05,304.52 305.50,304.59 305.95,303.81 306.40,301.11 306.85,303.35 307.30,302.57 307.75,302.21 308.20,302.40 308.65,300.81 309.10,300.66 309.55,300.61 310.00,301.65 310.45,299.00 310.90,298.97 311.35,299.24 311.80,301.08 312.25,298.30 312.70,298.88 313.15,297.53 313.60,297.33 314.05,297.17 314.50,295.01 314.95,295.39 315.40,293.89 315.85,295.55 316.30,294.40 316.75,292.49 317.20,293.10 317.65,293.76 318.10,293.57 318.55,292.95 319.00,292.13 319.45,291.06 319.90,291.34 320.35,290.48 320.80,290.17 321.25,290.71 321.70,289.35 322.15,289.77 322.60,290.56 323.05,290.23 323.50,289.31 323.95,288.56 324.40,287.32 324.85,284.70 325.30,286.04 325.75,287.18 326.20,291.08 326.65,292.49 327.10,293.91 327.55,295.78 328.00,296.35 328.45,298.38 328.90,299.34 329.35,299.51 329.80,301.09 330.25,302.60 330.70,304.34 331.15,304.30 331.60,304.39 332.05,308.26 332.50,306.92 332.95,308.25 333.40,308.41 333.85,309.01 334.30,310.81 334.75,309.76 335.20,311.42 335.65,311.58 336.10,311.44 336.55,312.02 337.00,312.06 337.45,312.57 337.90,312.92 338.35,312.58 338.80,313.00 339.25,312.22 339.70,312.70 340.15,312.31 340.60,313.00 341.05,313.00 341.50,313.00 341.95,313.00 342.40,313.00 342.85,312.82 343.30,313.00 343.75,313.00 344.20,312.86 344.65,313.00 345.10,312.74 345.55,312.70" fill="none" stroke="#2828a6" stroke-width="1.25" stroke-linejoin="round"/>
<line x1="260.50" y1="264.20" x2="260.50" y2="315.50" stroke="#111" stroke-width="1.4"/>
<text x="264.50" y="244.10" font-size="8.6" text-anchor="start" fill="#000" stroke="#000" stroke-width="0.2" transform="translate(264.50 244.10) scale(1 1.05) translate(-264.50 -244.10)">IgG</text>
<text x="287.90" y="251.80" font-size="8.6" text-anchor="start" fill="#266c32" stroke="#266c32" stroke-width="0.1" font-weight="bold" transform="translate(287.90 251.80) scale(1 1.05) translate(-287.90 -251.80)">ATG +</text>
<text x="293.40" y="262.20" font-size="8.6" text-anchor="start" fill="#266c32" stroke="#266c32" stroke-width="0.1" font-weight="bold" transform="translate(293.40 262.20) scale(1 1.05) translate(-293.40 -262.20)">αC5</text>
<text x="321.30" y="249.20" font-size="8.6" text-anchor="start" fill="#c42229" stroke="#c42229" stroke-width="0.1" font-weight="bold" transform="translate(321.30 249.20) scale(1 1.05) translate(-321.30 -249.20)">ATG</text>
<text x="293.90" y="283.80" font-size="8.6" text-anchor="start" fill="#2828a6" stroke="#2828a6" stroke-width="0.1" font-weight="bold" transform="translate(293.90 283.80) scale(1 1.05) translate(-293.90 -283.80)">ATG +</text>
<text x="299.10" y="294.20" font-size="8.6" text-anchor="start" fill="#2828a6" stroke="#2828a6" stroke-width="0.1" font-weight="bold" transform="translate(299.10 294.20) scale(1 1.05) translate(-299.10 -294.20)">αC9</text>
<rect x="260.40" y="326.70" width="85.50" height="82.20" fill="none" stroke="#888" stroke-width="0.8"/>
<line x1="260.40" y1="326.70" x2="260.40" y2="408.90" stroke="#444" stroke-width="1.0"/>
<line x1="259.40" y1="408.90" x2="260.40" y2="408.90" stroke="#444" stroke-width="0.6"/>
<line x1="259.40" y1="405.61" x2="260.40" y2="405.61" stroke="#444" stroke-width="0.6"/>
<line x1="259.40" y1="402.32" x2="260.40" y2="402.32" stroke="#444" stroke-width="0.6"/>
<line x1="259.40" y1="399.04" x2="260.40" y2="399.04" stroke="#444" stroke-width="0.6"/>
<line x1="259.40" y1="395.75" x2="260.40" y2="395.75" stroke="#444" stroke-width="0.6"/>
<line x1="259.40" y1="392.46" x2="260.40" y2="392.46" stroke="#444" stroke-width="0.6"/>
<line x1="259.40" y1="389.17" x2="260.40" y2="389.17" stroke="#444" stroke-width="0.6"/>
<line x1="259.40" y1="385.88" x2="260.40" y2="385.88" stroke="#444" stroke-width="0.6"/>
<line x1="259.40" y1="382.60" x2="260.40" y2="382.60" stroke="#444" stroke-width="0.6"/>
<line x1="259.40" y1="379.31" x2="260.40" y2="379.31" stroke="#444" stroke-width="0.6"/>
<line x1="259.40" y1="376.02" x2="260.40" y2="376.02" stroke="#444" stroke-width="0.6"/>
<line x1="259.40" y1="372.73" x2="260.40" y2="372.73" stroke="#444" stroke-width="0.6"/>
<line x1="259.40" y1="369.44" x2="260.40" y2="369.44" stroke="#444" stroke-width="0.6"/>
<line x1="259.40" y1="366.16" x2="260.40" y2="366.16" stroke="#444" stroke-width="0.6"/>
<line x1="259.40" y1="362.87" x2="260.40" y2="362.87" stroke="#444" stroke-width="0.6"/>
<line x1="259.40" y1="359.58" x2="260.40" y2="359.58" stroke="#444" stroke-width="0.6"/>
<line x1="259.40" y1="356.29" x2="260.40" y2="356.29" stroke="#444" stroke-width="0.6"/>
<line x1="259.40" y1="353.00" x2="260.40" y2="353.00" stroke="#444" stroke-width="0.6"/>
<line x1="259.40" y1="349.72" x2="260.40" y2="349.72" stroke="#444" stroke-width="0.6"/>
<line x1="259.40" y1="346.43" x2="260.40" y2="346.43" stroke="#444" stroke-width="0.6"/>
<line x1="259.40" y1="343.14" x2="260.40" y2="343.14" stroke="#444" stroke-width="0.6"/>
<line x1="259.40" y1="339.85" x2="260.40" y2="339.85" stroke="#444" stroke-width="0.6"/>
<line x1="259.40" y1="336.56" x2="260.40" y2="336.56" stroke="#444" stroke-width="0.6"/>
<line x1="259.40" y1="333.28" x2="260.40" y2="333.28" stroke="#444" stroke-width="0.6"/>
<line x1="259.40" y1="329.99" x2="260.40" y2="329.99" stroke="#444" stroke-width="0.6"/>
<line x1="259.40" y1="326.70" x2="260.40" y2="326.70" stroke="#444" stroke-width="0.6"/>
<line x1="257.80" y1="408.90" x2="260.40" y2="408.90" stroke="#444" stroke-width="0.7"/>
<text x="257.20" y="408.90" font-size="4.0" text-anchor="middle" fill="#333" stroke="#333" stroke-width="0.2" transform="rotate(-90 257.20 408.90) translate(257.20 408.90) scale(1 1.05) translate(-257.20 -408.90)">0</text>
<line x1="257.80" y1="392.46" x2="260.40" y2="392.46" stroke="#444" stroke-width="0.7"/>
<text x="257.20" y="392.46" font-size="4.0" text-anchor="middle" fill="#333" stroke="#333" stroke-width="0.2" transform="rotate(-90 257.20 392.46) translate(257.20 392.46) scale(1 1.05) translate(-257.20 -392.46)">40</text>
<line x1="257.80" y1="376.02" x2="260.40" y2="376.02" stroke="#444" stroke-width="0.7"/>
<text x="257.20" y="376.02" font-size="4.0" text-anchor="middle" fill="#333" stroke="#333" stroke-width="0.2" transform="rotate(-90 257.20 376.02) translate(257.20 376.02) scale(1 1.05) translate(-257.20 -376.02)">80</text>
<line x1="257.80" y1="359.58" x2="260.40" y2="359.58" stroke="#444" stroke-width="0.7"/>
<text x="257.20" y="359.58" font-size="4.0" text-anchor="middle" fill="#333" stroke="#333" stroke-width="0.2" transform="rotate(-90 257.20 359.58) translate(257.20 359.58) scale(1 1.05) translate(-257.20 -359.58)">120</text>
<line x1="257.80" y1="343.14" x2="260.40" y2="343.14" stroke="#444" stroke-width="0.7"/>
<text x="257.20" y="343.14" font-size="4.0" text-anchor="middle" fill="#333" stroke="#333" stroke-width="0.2" transform="rotate(-90 257.20 343.14) translate(257.20 343.14) scale(1 1.05) translate(-257.20 -343.14)">160</text>
<line x1="257.80" y1="326.70" x2="260.40" y2="326.70" stroke="#444" stroke-width="0.7"/>
<text x="257.20" y="326.70" font-size="4.0" text-anchor="middle" fill="#333" stroke="#333" stroke-width="0.2" transform="rotate(-90 257.20 326.70) translate(257.20 326.70) scale(1 1.05) translate(-257.20 -326.70)">200</text>
<line x1="260.40" y1="408.90" x2="260.40" y2="410.40" stroke="#555" stroke-width="0.6"/>
<text x="260.40" y="415.90" font-size="4.2" text-anchor="middle" fill="#333" stroke="#333" stroke-width="0.2" transform="translate(260.40 415.90) scale(1 1.05) translate(-260.40 -415.90)">10<tspan font-size="3" dy="-1.7">0</tspan></text>
<line x1="281.77" y1="408.90" x2="281.77" y2="410.40" stroke="#555" stroke-width="0.6"/>
<text x="281.77" y="415.90" font-size="4.2" text-anchor="middle" fill="#333" stroke="#333" stroke-width="0.2" transform="translate(281.77 415.90) scale(1 1.05) translate(-281.77 -415.90)">10<tspan font-size="3" dy="-1.7">1</tspan></text>
<line x1="303.15" y1="408.90" x2="303.15" y2="410.40" stroke="#555" stroke-width="0.6"/>
<text x="303.15" y="415.90" font-size="4.2" text-anchor="middle" fill="#333" stroke="#333" stroke-width="0.2" transform="translate(303.15 415.90) scale(1 1.05) translate(-303.15 -415.90)">10<tspan font-size="3" dy="-1.7">2</tspan></text>
<line x1="324.52" y1="408.90" x2="324.52" y2="410.40" stroke="#555" stroke-width="0.6"/>
<text x="324.52" y="415.90" font-size="4.2" text-anchor="middle" fill="#333" stroke="#333" stroke-width="0.2" transform="translate(324.52 415.90) scale(1 1.05) translate(-324.52 -415.90)">10<tspan font-size="3" dy="-1.7">3</tspan></text>
<line x1="345.90" y1="408.90" x2="345.90" y2="410.40" stroke="#555" stroke-width="0.6"/>
<text x="345.90" y="415.90" font-size="4.2" text-anchor="middle" fill="#333" stroke="#333" stroke-width="0.2" transform="translate(345.90 415.90) scale(1 1.05) translate(-345.90 -415.90)">10<tspan font-size="3" dy="-1.7">4</tspan></text>
<polyline points="260.40,400.10 260.40,404.61 260.85,404.64 261.30,405.10 261.75,405.10 262.20,404.67 262.65,404.03 263.10,404.05 263.55,404.16 264.00,402.93 264.45,400.80 264.90,401.14 265.35,397.81 265.80,395.96 266.25,393.32 266.70,389.93 267.15,387.55 267.60,383.25 268.05,377.07 268.50,375.12 268.95,371.00 269.40,368.33 269.85,363.86 270.30,359.70 270.75,357.27 271.20,357.28 271.65,357.32 272.10,357.55 272.55,358.17 273.00,357.73 273.45,359.76 273.90,358.88 274.35,361.11 274.80,363.92 275.25,364.50 275.70,364.23 276.15,365.71 276.60,367.86 277.05,368.61 277.50,368.86 277.95,370.02 278.40,370.97 278.85,374.38 279.30,374.50 279.75,375.31 280.20,377.55 280.65,377.60 281.10,381.39 281.55,382.38 282.00,383.64 282.45,385.59 282.90,386.62 283.35,387.68 283.80,389.18 284.25,390.79 284.70,391.90 285.15,392.69 285.60,394.88 286.05,394.51 286.50,396.40 286.95,396.63 287.40,398.03 287.85,397.95 288.30,398.96 288.75,399.52 289.20,400.41 289.65,400.41 290.10,400.03 290.55,402.47 291.00,401.54 291.45,402.07 291.90,402.73 292.35,403.48 292.80,402.27 293.25,403.21 293.70,403.01 294.15,403.85 294.60,404.18 295.05,403.45 295.50,403.72 295.95,404.27 296.40,404.30 296.85,403.99 297.30,404.65 297.75,404.69 298.20,404.36 298.65,403.91 299.10,403.96 299.55,404.24 300.00,403.70 300.45,404.32 300.90,404.43 301.35,403.12 301.80,404.32 302.25,403.76 302.70,403.71 303.15,403.83 303.60,403.70 304.05,403.40 304.50,403.37 304.95,403.82 305.40,403.44 305.85,402.66 306.30,402.88 306.75,403.36 307.20,403.01 307.65,403.44 308.10,403.50 308.55,403.00 309.00,401.77 309.45,402.85 309.90,403.48 310.35,402.38 310.80,402.60 311.25,401.73 311.70,401.37 312.15,402.16 312.60,401.84 313.05,402.34 313.50,401.10 313.95,402.14 314.40,401.67 314.85,400.30 315.30,402.15 315.75,401.51 316.20,401.62 316.65,401.33 317.10,401.33 317.55,400.77 318.00,401.36 318.45,401.33 318.90,402.41 319.35,401.54 319.80,402.57 320.25,401.21 320.70,401.98 321.15,401.49 321.60,402.38 322.05,402.07 322.50,402.24 322.95,402.09 323.40,402.54 323.85,402.89 324.30,402.88 324.75,403.13 325.20,403.37 325.65,403.62 326.10,403.85 326.55,402.28 327.00,403.69 327.45,403.96 327.90,403.05 328.35,403.49 328.80,403.78 329.25,403.28 329.70,403.04 330.15,404.37 330.60,403.43 331.05,403.89 331.50,403.71 331.95,404.52 332.40,403.64 332.85,403.93 333.30,405.10 333.75,404.01 334.20,404.04 334.65,405.10 335.10,404.55 335.55,404.79 336.00,404.67 336.45,405.10 336.90,404.58 337.35,404.58 337.80,404.92 338.25,404.93 338.70,405.10 339.15,404.75 339.60,405.10 340.05,404.97 340.50,405.10 340.95,404.10 341.40,405.02 341.85,404.50 342.30,405.05 342.75,405.06 343.20,404.80 343.65,405.07 344.10,404.29 344.55,405.10" fill="none" stroke="#111" stroke-width="1.25" stroke-linejoin="round"/>
<polyline points="260.40,400.10 260.40,404.98 260.85,405.00 261.30,404.93 261.75,405.03 262.20,404.54 262.65,404.36 263.10,403.44 263.55,403.92 264.00,401.21 264.45,403.46 264.90,400.13 265.35,397.76 265.80,396.32 266.25,394.09 266.70,390.34 267.15,385.99 267.60,381.39 268.05,380.09 268.50,373.81 268.95,370.58 269.40,364.53 269.85,363.08 270.30,359.53 270.75,356.47 271.20,357.59 271.65,356.88 272.10,358.45 272.55,358.10 273.00,360.77 273.45,359.88 273.90,360.10 274.35,361.13 274.80,358.28 275.25,365.12 275.70,366.12 276.15,364.13 276.60,364.91 277.05,366.84 277.50,366.99 277.95,367.32 278.40,371.91 278.85,374.43 279.30,374.57 279.75,374.57 280.20,376.98 280.65,379.20 281.10,380.16 281.55,381.69 282.00,385.22 282.45,384.43 282.90,387.08 283.35,387.84 283.80,389.38 284.25,390.06 284.70,390.48 285.15,392.61 285.60,393.37 286.05,393.76 286.50,395.08 286.95,396.85 287.40,396.55 287.85,398.22 288.30,398.82 288.75,399.14 289.20,398.87 289.65,401.00 290.10,401.19 290.55,401.30 291.00,402.32 291.45,402.10 291.90,401.78 292.35,403.79 292.80,403.04 293.25,403.67 293.70,402.42 294.15,403.36 294.60,403.51 295.05,403.99 295.50,404.54 295.95,404.09 296.40,404.02 296.85,404.23 297.30,403.44 297.75,403.94 298.20,404.72 298.65,404.48 299.10,404.15 299.55,404.82 300.00,404.32 300.45,404.48 300.90,404.04 301.35,404.01 301.80,404.31 302.25,403.30 302.70,404.13 303.15,403.42 303.60,404.20 304.05,404.06 304.50,403.79 304.95,403.57 305.40,402.81 305.85,403.94 306.30,402.12 306.75,403.56 307.20,401.95 307.65,402.55 308.10,402.82 308.55,401.94 309.00,402.58 309.45,402.19 309.90,402.04 310.35,400.26 310.80,402.45 311.25,400.61 311.70,401.83 312.15,402.01 312.60,401.79 313.05,400.65 313.50,401.48 313.95,401.78 314.40,400.86 314.85,401.03 315.30,400.51 315.75,401.86 316.20,400.21 316.65,400.38 317.10,401.59 317.55,401.38 318.00,400.91 318.45,401.39 318.90,400.79 319.35,400.98 319.80,401.42 320.25,402.17 320.70,402.79 321.15,401.47 321.60,402.50 322.05,401.16 322.50,400.90 322.95,401.98 323.40,401.66 323.85,401.56 324.30,401.93 324.75,403.15 325.20,403.20 325.65,403.04 326.10,402.83 326.55,403.46 327.00,403.01 327.45,402.54 327.90,403.56 328.35,403.45 328.80,404.07 329.25,403.74 329.70,403.32 330.15,403.21 330.60,403.85 331.05,404.43 331.50,403.20 331.95,405.10 332.40,404.50 332.85,404.72 333.30,404.43 333.75,404.24 334.20,404.75 334.65,403.05 335.10,403.77 335.55,404.34 336.00,404.95 336.45,405.10 336.90,404.33 337.35,404.50 337.80,404.70 338.25,404.33 338.70,404.74 339.15,405.10 339.60,405.10 340.05,405.10 340.50,404.96 340.95,404.79 341.40,404.93 341.85,405.10 342.30,405.10 342.75,404.86 343.20,404.81 343.65,405.10 344.10,405.10 344.55,405.10" fill="none" stroke="#2828a6" stroke-width="1.4" stroke-linejoin="round"/>
<polyline points="260.40,400.10 260.40,405.10 260.85,404.60 261.30,405.10 261.75,404.59 262.20,405.10 262.65,404.24 263.10,404.42 263.55,403.49 264.00,403.40 264.45,403.36 264.90,402.99 265.35,401.91 265.80,401.39 266.25,400.95 266.70,398.91 267.15,399.79 267.60,396.82 268.05,393.81 268.50,393.65 268.95,393.90 269.40,390.67 269.85,390.42 270.30,390.33 270.75,389.83 271.20,388.93 271.65,388.31 272.10,389.39 272.55,388.17 273.00,390.76 273.45,390.05 273.90,392.58 274.35,393.30 274.80,392.01 275.25,391.77 275.70,390.33 276.15,391.89 276.60,390.98 277.05,391.81 277.50,390.32 277.95,389.50 278.40,390.11 278.85,388.82 279.30,388.64 279.75,389.62 280.20,390.59 280.65,391.22 281.10,391.14 281.55,393.14 282.00,392.20 282.45,394.12 282.90,394.07 283.35,395.74 283.80,396.15 284.25,396.55 284.70,396.03 285.15,396.80 285.60,397.16 286.05,396.87 286.50,398.49 286.95,397.50 287.40,398.66 287.85,398.90 288.30,398.53 288.75,397.06 289.20,396.01 289.65,396.70 290.10,395.90 290.55,394.79 291.00,391.66 291.45,389.20 291.90,386.89 292.35,384.57 292.80,381.00 293.25,379.99 293.70,377.52 294.15,376.50 294.60,375.98 295.05,376.67 295.50,374.00 295.95,374.90 296.40,375.25 296.85,376.01 297.30,376.18 297.75,377.18 298.20,380.91 298.65,380.31 299.10,380.95 299.55,382.56 300.00,384.58 300.45,385.60 300.90,388.50 301.35,387.81 301.80,389.31 302.25,389.79 302.70,390.01 303.15,391.20 303.60,393.09 304.05,394.76 304.50,394.74 304.95,395.75 305.40,397.05 305.85,397.97 306.30,399.76 306.75,401.00 307.20,403.14 307.65,402.51 308.10,403.41 308.55,402.95 309.00,403.89 309.45,404.77 309.90,404.57 310.35,404.48 310.80,405.10 311.25,405.10 311.70,404.78 312.15,405.10 312.60,405.08 313.05,405.01 313.50,405.10 313.95,404.80 314.40,404.98 314.85,404.99 315.30,404.81 315.75,405.10 316.20,405.10 316.65,405.09 317.10,405.10 317.55,405.02 318.00,405.10 318.45,405.10 318.90,404.70 319.35,404.88 319.80,405.10 320.25,405.10 320.70,405.10 321.15,404.78 321.60,404.92 322.05,405.10 322.50,404.83 322.95,405.01 323.40,404.86 323.85,404.66 324.30,405.10 324.75,404.92 325.20,405.04 325.65,404.76 326.10,405.10 326.55,405.10 327.00,405.04 327.45,404.79 327.90,405.10 328.35,405.10 328.80,405.04 329.25,405.10 329.70,405.10 330.15,405.10 330.60,404.63 331.05,405.10 331.50,405.04 331.95,404.73 332.40,404.75 332.85,405.10 333.30,405.10 333.75,405.10 334.20,405.10 334.65,405.10 335.10,405.10 335.55,405.10 336.00,404.99 336.45,405.10 336.90,405.02 337.35,404.69 337.80,405.10 338.25,404.70 338.70,405.10 339.15,405.10 339.60,405.05 340.05,405.06 340.50,404.64 340.95,405.10 341.40,404.52 341.85,405.10 342.30,404.92 342.75,405.10 343.20,404.93 343.65,404.70 344.10,405.09 344.55,405.10" fill="none" stroke="#c42229" stroke-width="1.25" stroke-linejoin="round"/>
<line x1="260.40" y1="326.70" x2="260.40" y2="408.90" stroke="#1a1a8a" stroke-width="1.4"/>
<text x="268.50" y="346.60" font-size="8.6" text-anchor="start" fill="#000" stroke="#000" stroke-width="0.2" transform="translate(268.50 346.60) scale(1 1.05) translate(-268.50 -346.60)">IgG</text>
<text x="281.00" y="360.90" font-size="8.6" text-anchor="start" fill="#2828a6" stroke="#2828a6" stroke-width="0.1" font-weight="bold" transform="translate(281.00 360.90) scale(1 1.05) translate(-281.00 -360.90)">ATG + αC7</text>
<text x="304.00" y="378.50" font-size="8.6" text-anchor="start" fill="#c42229" stroke="#c42229" stroke-width="0.1" font-weight="bold" transform="translate(304.00 378.50) scale(1 1.05) translate(-304.00 -378.50)">ATG</text>
<text x="247.00" y="275.00" font-size="9.75" text-anchor="middle" fill="#000" stroke="#000" stroke-width="0.3" transform="rotate(-90 247.00 275.00) translate(247.00 275.00) scale(1 1.05) translate(-247.00 -275.00)">Cell count</text>
<text x="247.00" y="367.60" font-size="9.75" text-anchor="middle" fill="#000" stroke="#000" stroke-width="0.3" transform="rotate(-90 247.00 367.60) translate(247.00 367.60) scale(1 1.05) translate(-247.00 -367.60)">Cell count</text>
<text x="302.90" y="427.20" font-size="9.8" text-anchor="middle" fill="#000" stroke="#000" stroke-width="0.3" transform="translate(302.90 427.20) scale(1 1.05) translate(-302.90 -427.20)">Annexin V staining</text>
<line x1="388.80" y1="272.60" x2="388.80" y2="409.80" stroke="#000" stroke-width="1"/>
<line x1="388.40" y1="409.40" x2="520.00" y2="409.40" stroke="#000" stroke-width="1"/>
<line x1="385.80" y1="409.40" x2="388.80" y2="409.40" stroke="#000" stroke-width="1"/>
<text x="381.40" y="412.80" font-size="9.5" text-anchor="end" fill="#000" stroke="#000" stroke-width="0.3" transform="translate(381.40 412.80) scale(1 1.05) translate(-381.40 -412.80)">0</text>
<line x1="385.80" y1="381.98" x2="388.80" y2="381.98" stroke="#000" stroke-width="1"/>
<text x="381.40" y="385.38" font-size="9.5" text-anchor="end" fill="#000" stroke="#000" stroke-width="0.3" transform="translate(381.40 385.38) scale(1 1.05) translate(-381.40 -385.38)">20</text>
<line x1="385.80" y1="354.56" x2="388.80" y2="354.56" stroke="#000" stroke-width="1"/>
<text x="381.40" y="357.96" font-size="9.5" text-anchor="end" fill="#000" stroke="#000" stroke-width="0.3" transform="translate(381.40 357.96) scale(1 1.05) translate(-381.40 -357.96)">40</text>
<line x1="385.80" y1="327.14" x2="388.80" y2="327.14" stroke="#000" stroke-width="1"/>
<text x="381.40" y="330.54" font-size="9.5" text-anchor="end" fill="#000" stroke="#000" stroke-width="0.3" transform="translate(381.40 330.54) scale(1 1.05) translate(-381.40 -330.54)">60</text>
<line x1="385.80" y1="299.72" x2="388.80" y2="299.72" stroke="#000" stroke-width="1"/>
<text x="381.40" y="303.12" font-size="9.5" text-anchor="end" fill="#000" stroke="#000" stroke-width="0.3" transform="translate(381.40 303.12) scale(1 1.05) translate(-381.40 -303.12)">80</text>
<line x1="385.80" y1="272.30" x2="388.80" y2="272.30" stroke="#000" stroke-width="1"/>
<text x="381.40" y="275.70" font-size="9.5" text-anchor="end" fill="#000" stroke="#000" stroke-width="0.3" transform="translate(381.40 275.70) scale(1 1.05) translate(-381.40 -275.70)">100</text>
<line x1="402.50" y1="396.38" x2="402.50" y2="390.75" stroke="#000" stroke-width="1.1"/>
<line x1="400.30" y1="390.75" x2="404.70" y2="390.75" stroke="#000" stroke-width="1.1"/>
<rect x="394.00" y="396.38" width="17.00" height="13.02" fill="#fff" stroke="#000" stroke-width="1.0"/>
<line x1="428.50" y1="323.30" x2="428.50" y2="292.18" stroke="#000" stroke-width="1.1"/>
<line x1="426.30" y1="292.18" x2="430.70" y2="292.18" stroke="#000" stroke-width="1.1"/>
<rect x="419.90" y="323.30" width="17.20" height="86.10" fill="#000" stroke="#000" stroke-width="1.0"/>
<line x1="454.40" y1="390.21" x2="454.40" y2="384.86" stroke="#000" stroke-width="1.1"/>
<line x1="452.20" y1="384.86" x2="456.60" y2="384.86" stroke="#000" stroke-width="1.1"/>
<rect x="446.00" y="390.21" width="16.80" height="19.19" fill="#000" stroke="#000" stroke-width="1.0"/>
<line x1="480.20" y1="398.29" x2="480.20" y2="392.40" stroke="#000" stroke-width="1.1"/>
<line x1="478.00" y1="392.40" x2="482.40" y2="392.40" stroke="#000" stroke-width="1.1"/>
<rect x="471.60" y="398.29" width="17.20" height="11.11" fill="#000" stroke="#000" stroke-width="1.0"/>
<line x1="506.45" y1="318.50" x2="506.45" y2="299.72" stroke="#000" stroke-width="1.1"/>
<line x1="504.25" y1="299.72" x2="508.65" y2="299.72" stroke="#000" stroke-width="1.1"/>
<rect x="497.80" y="318.50" width="17.30" height="90.90" fill="#000" stroke="#000" stroke-width="1.0"/>
<text x="402.40" y="423.50" font-size="9.5" text-anchor="middle" fill="#000" stroke="#000" stroke-width="0.3" transform="translate(402.40 423.50) scale(1 1.05) translate(-402.40 -423.50)">PBS</text>
<text x="428.30" y="423.50" font-size="9.5" text-anchor="middle" fill="#000" stroke="#000" stroke-width="0.3" transform="translate(428.30 423.50) scale(1 1.05) translate(-428.30 -423.50)">PBS</text>
<text x="454.60" y="423.50" font-size="9.5" text-anchor="middle" fill="#000" stroke="#000" stroke-width="0.3" transform="translate(454.60 423.50) scale(1 1.05) translate(-454.60 -423.50)">αC5</text>
<text x="480.30" y="423.50" font-size="9.5" text-anchor="middle" fill="#000" stroke="#000" stroke-width="0.3" transform="translate(480.30 423.50) scale(1 1.05) translate(-480.30 -423.50)">αC7</text>
<text x="506.20" y="423.50" font-size="9.5" text-anchor="middle" fill="#000" stroke="#000" stroke-width="0.3" transform="translate(506.20 423.50) scale(1 1.05) translate(-506.20 -423.50)">αC9</text>
<rect x="392.30" y="273.60" width="11.40" height="6.70" fill="#fff" stroke="#000" stroke-width="1.0"/>
<rect x="392.30" y="285.40" width="11.40" height="6.70" fill="#000" stroke="#000" stroke-width="1.0"/>
<text x="406.50" y="280.60" font-size="9.0" text-anchor="start" fill="#000" stroke="#000" stroke-width="0.3" transform="translate(406.50 280.60) scale(1 1.05) translate(-406.50 -280.60)">IgG</text>
<text x="406.50" y="291.70" font-size="9.0" text-anchor="start" fill="#000" stroke="#000" stroke-width="0.3" transform="translate(406.50 291.70) scale(1 1.05) translate(-406.50 -291.70)">ATG</text>
<text x="360.40" y="342.10" font-size="9.6" text-anchor="middle" fill="#000" stroke="#000" stroke-width="0.3" transform="rotate(-90 360.40 342.10) translate(360.40 342.10) scale(1 1.05) translate(-360.40 -342.10)">PS exposure (% positive cells)</text>
<rect x="47.30" y="483.70" width="96.00" height="113.10" fill="none" stroke="#888" stroke-width="0.8"/>
<line x1="47.30" y1="483.70" x2="47.30" y2="596.80" stroke="#444" stroke-width="1.0"/>
<line x1="46.30" y1="596.80" x2="47.30" y2="596.80" stroke="#444" stroke-width="0.6"/>
<line x1="46.30" y1="592.28" x2="47.30" y2="592.28" stroke="#444" stroke-width="0.6"/>
<line x1="46.30" y1="587.75" x2="47.30" y2="587.75" stroke="#444" stroke-width="0.6"/>
<line x1="46.30" y1="583.23" x2="47.30" y2="583.23" stroke="#444" stroke-width="0.6"/>
<line x1="46.30" y1="578.70" x2="47.30" y2="578.70" stroke="#444" stroke-width="0.6"/>
<line x1="46.30" y1="574.18" x2="47.30" y2="574.18" stroke="#444" stroke-width="0.6"/>
<line x1="46.30" y1="569.66" x2="47.30" y2="569.66" stroke="#444" stroke-width="0.6"/>
<line x1="46.30" y1="565.13" x2="47.30" y2="565.13" stroke="#444" stroke-width="0.6"/>
<line x1="46.30" y1="560.61" x2="47.30" y2="560.61" stroke="#444" stroke-width="0.6"/>
<line x1="46.30" y1="556.08" x2="47.30" y2="556.08" stroke="#444" stroke-width="0.6"/>
<line x1="46.30" y1="551.56" x2="47.30" y2="551.56" stroke="#444" stroke-width="0.6"/>
<line x1="46.30" y1="547.04" x2="47.30" y2="547.04" stroke="#444" stroke-width="0.6"/>
<line x1="46.30" y1="542.51" x2="47.30" y2="542.51" stroke="#444" stroke-width="0.6"/>
<line x1="46.30" y1="537.99" x2="47.30" y2="537.99" stroke="#444" stroke-width="0.6"/>
<line x1="46.30" y1="533.46" x2="47.30" y2="533.46" stroke="#444" stroke-width="0.6"/>
<line x1="46.30" y1="528.94" x2="47.30" y2="528.94" stroke="#444" stroke-width="0.6"/>
<line x1="46.30" y1="524.42" x2="47.30" y2="524.42" stroke="#444" stroke-width="0.6"/>
<line x1="46.30" y1="519.89" x2="47.30" y2="519.89" stroke="#444" stroke-width="0.6"/>
<line x1="46.30" y1="515.37" x2="47.30" y2="515.37" stroke="#444" stroke-width="0.6"/>
<line x1="46.30" y1="510.84" x2="47.30" y2="510.84" stroke="#444" stroke-width="0.6"/>
<line x1="46.30" y1="506.32" x2="47.30" y2="506.32" stroke="#444" stroke-width="0.6"/>
<line x1="46.30" y1="501.80" x2="47.30" y2="501.80" stroke="#444" stroke-width="0.6"/>
<line x1="46.30" y1="497.27" x2="47.30" y2="497.27" stroke="#444" stroke-width="0.6"/>
<line x1="46.30" y1="492.75" x2="47.30" y2="492.75" stroke="#444" stroke-width="0.6"/>
<line x1="46.30" y1="488.22" x2="47.30" y2="488.22" stroke="#444" stroke-width="0.6"/>
<line x1="46.30" y1="483.70" x2="47.30" y2="483.70" stroke="#444" stroke-width="0.6"/>
<line x1="44.70" y1="596.80" x2="47.30" y2="596.80" stroke="#444" stroke-width="0.7"/>
<text x="44.10" y="596.80" font-size="4.0" text-anchor="middle" fill="#333" stroke="#333" stroke-width="0.2" transform="rotate(-90 44.10 596.80) translate(44.10 596.80) scale(1 1.05) translate(-44.10 -596.80)">0</text>
<line x1="44.70" y1="574.18" x2="47.30" y2="574.18" stroke="#444" stroke-width="0.7"/>
<text x="44.10" y="574.18" font-size="4.0" text-anchor="middle" fill="#333" stroke="#333" stroke-width="0.2" transform="rotate(-90 44.10 574.18) translate(44.10 574.18) scale(1 1.05) translate(-44.10 -574.18)">40</text>
<line x1="44.70" y1="551.56" x2="47.30" y2="551.56" stroke="#444" stroke-width="0.7"/>
<text x="44.10" y="551.56" font-size="4.0" text-anchor="middle" fill="#333" stroke="#333" stroke-width="0.2" transform="rotate(-90 44.10 551.56) translate(44.10 551.56) scale(1 1.05) translate(-44.10 -551.56)">80</text>
<line x1="44.70" y1="528.94" x2="47.30" y2="528.94" stroke="#444" stroke-width="0.7"/>
<text x="44.10" y="528.94" font-size="4.0" text-anchor="middle" fill="#333" stroke="#333" stroke-width="0.2" transform="rotate(-90 44.10 528.94) translate(44.10 528.94) scale(1 1.05) translate(-44.10 -528.94)">120</text>
<line x1="44.70" y1="506.32" x2="47.30" y2="506.32" stroke="#444" stroke-width="0.7"/>
<text x="44.10" y="506.32" font-size="4.0" text-anchor="middle" fill="#333" stroke="#333" stroke-width="0.2" transform="rotate(-90 44.10 506.32) translate(44.10 506.32) scale(1 1.05) translate(-44.10 -506.32)">160</text>
<line x1="44.70" y1="483.70" x2="47.30" y2="483.70" stroke="#444" stroke-width="0.7"/>
<text x="44.10" y="483.70" font-size="4.0" text-anchor="middle" fill="#333" stroke="#333" stroke-width="0.2" transform="rotate(-90 44.10 483.70) translate(44.10 483.70) scale(1 1.05) translate(-44.10 -483.70)">200</text>
<line x1="47.30" y1="596.80" x2="47.30" y2="598.30" stroke="#555" stroke-width="0.6"/>
<text x="47.30" y="603.80" font-size="4.2" text-anchor="middle" fill="#333" stroke="#333" stroke-width="0.2" transform="translate(47.30 603.80) scale(1 1.05) translate(-47.30 -603.80)">10<tspan font-size="3" dy="-1.7">0</tspan></text>
<line x1="71.30" y1="596.80" x2="71.30" y2="598.30" stroke="#555" stroke-width="0.6"/>
<text x="71.30" y="603.80" font-size="4.2" text-anchor="middle" fill="#333" stroke="#333" stroke-width="0.2" transform="translate(71.30 603.80) scale(1 1.05) translate(-71.30 -603.80)">10<tspan font-size="3" dy="-1.7">1</tspan></text>
<line x1="95.30" y1="596.80" x2="95.30" y2="598.30" stroke="#555" stroke-width="0.6"/>
<text x="95.30" y="603.80" font-size="4.2" text-anchor="middle" fill="#333" stroke="#333" stroke-width="0.2" transform="translate(95.30 603.80) scale(1 1.05) translate(-95.30 -603.80)">10<tspan font-size="3" dy="-1.7">2</tspan></text>
<line x1="119.30" y1="596.80" x2="119.30" y2="598.30" stroke="#555" stroke-width="0.6"/>
<text x="119.30" y="603.80" font-size="4.2" text-anchor="middle" fill="#333" stroke="#333" stroke-width="0.2" transform="translate(119.30 603.80) scale(1 1.05) translate(-119.30 -603.80)">10<tspan font-size="3" dy="-1.7">3</tspan></text>
<line x1="143.30" y1="596.80" x2="143.30" y2="598.30" stroke="#555" stroke-width="0.6"/>
<text x="143.30" y="603.80" font-size="4.2" text-anchor="middle" fill="#333" stroke="#333" stroke-width="0.2" transform="translate(143.30 603.80) scale(1 1.05) translate(-143.30 -603.80)">10<tspan font-size="3" dy="-1.7">4</tspan></text>
<polyline points="47.30,595.00 47.30,596.00 47.75,596.00 48.20,595.73 48.65,596.00 49.10,595.92 49.55,596.00 50.00,596.00 50.45,596.00 50.90,595.52 51.35,595.76 51.80,595.74 52.25,595.93 52.70,595.84 53.15,595.26 53.60,594.34 54.05,595.56 54.50,595.62 54.95,592.36 55.40,591.71 55.85,591.26 56.30,590.18 56.75,589.21 57.20,587.35 57.65,585.89 58.10,581.80 58.55,579.58 59.00,577.97 59.45,572.81 59.90,568.73 60.35,564.37 60.80,556.36 61.25,552.32 61.70,552.92 62.15,542.66 62.60,536.65 63.05,531.30 63.50,527.48 63.95,527.83 64.40,519.61 64.85,518.05 65.30,513.38 65.75,512.32 66.20,509.96 66.65,497.52 67.10,505.57 67.55,510.16 68.00,517.28 68.45,522.42 68.90,528.57 69.35,530.15 69.80,534.50 70.25,538.05 70.70,543.02 71.15,545.56 71.60,552.38 72.05,556.49 72.50,564.25 72.95,567.93 73.40,570.65 73.85,574.49 74.30,578.23 74.75,582.28 75.20,585.35 75.65,585.24 76.10,589.01 76.55,590.29 77.00,590.25 77.45,592.26 77.90,593.50 78.35,593.32 78.80,594.42 79.25,594.06 79.70,595.10" fill="none" stroke="#111" stroke-width="1.3" stroke-linejoin="round"/>
<polyline points="80.00,592.35 80.45,591.82 80.90,592.69 81.35,592.06 81.80,593.00 82.25,592.18 82.70,592.82 83.15,592.02 83.60,592.10 84.05,591.57 84.50,592.20 84.95,592.50 85.40,592.49 85.85,592.97 86.30,591.09 86.75,593.17 87.20,592.11 87.65,591.78 88.10,592.36 88.55,593.14 89.00,592.21 89.45,591.74 89.90,591.92 90.35,593.58 90.80,592.82 91.25,592.59 91.70,591.67 92.15,593.25 92.60,593.29 93.05,592.74 93.50,594.42 93.95,594.03 94.40,594.95 94.85,594.29 95.30,594.60 95.75,594.63 96.20,594.08 96.65,594.25 97.10,594.49 97.55,594.95 98.00,595.20 98.45,595.62 98.90,594.95 99.35,594.94 99.80,595.46 100.25,595.78 100.70,595.82 101.15,595.21 101.60,595.02 102.05,595.21 102.50,596.00 102.95,595.94 103.40,596.00 103.85,595.15 104.30,595.57 104.75,596.00 105.20,595.66 105.65,595.75 106.10,595.79 106.55,595.77 107.00,596.00 107.45,596.00 107.90,595.71 108.35,595.20 108.80,596.00 109.25,596.00 109.70,595.74 110.15,596.00 110.60,596.00 111.05,596.00 111.50,595.56 111.95,595.49 112.40,595.55 112.85,596.00 113.30,595.65 113.75,595.90 114.20,595.84 114.65,595.25 115.10,595.78 115.55,594.59 116.00,594.47 116.45,594.06 116.90,593.78 117.35,593.95 117.80,591.78 118.25,591.12 118.70,591.92 119.15,591.12 119.60,590.67 120.05,589.70 120.50,588.12 120.95,586.89 121.40,587.57 121.85,587.02 122.30,586.67 122.75,585.19 123.20,584.97 123.65,584.17 124.10,583.90 124.55,585.39 125.00,584.78 125.45,583.79 125.90,585.08 126.35,585.24 126.80,586.40 127.25,584.60 127.70,585.50 128.15,586.62 128.60,586.29 129.05,586.34 129.50,586.94 129.95,588.96 130.40,589.32 130.85,589.61 131.30,589.71 131.75,592.27 132.20,591.44 132.65,592.98 133.10,591.76 133.55,593.02 134.00,592.91 134.45,593.84 134.90,593.11 135.35,593.84 135.80,594.82 136.25,595.58 136.70,594.71 137.15,594.87 137.60,595.43 138.05,595.50 138.50,595.80 138.95,595.14 139.40,595.11 139.85,595.99 140.30,596.00 140.75,595.62 141.20,596.00 141.65,595.95 142.10,595.88" fill="none" stroke="#111" stroke-width="1.2" stroke-linejoin="round" stroke-dasharray="2,1.5"/>
<polyline points="47.30,593.00 47.30,596.00 47.75,596.00 48.20,596.00 48.65,596.00 49.10,596.00 49.55,595.30 50.00,596.00 50.45,595.80 50.90,595.99 51.35,595.70 51.80,596.00 52.25,595.68 52.70,595.65 53.15,595.65 53.60,595.98 54.05,595.26 54.50,595.58 54.95,595.35 55.40,595.18 55.85,594.60 56.30,595.45 56.75,594.03 57.20,593.96 57.65,594.17 58.10,592.31 58.55,591.77 59.00,591.47 59.45,591.16 59.90,589.69 60.35,588.59 60.80,585.39 61.25,585.77 61.70,582.70 62.15,583.39 62.60,579.15 63.05,575.95 63.50,575.11 63.95,574.45 64.40,570.83 64.85,567.80 65.30,566.41 65.75,564.43 66.20,562.25 66.65,560.68 67.10,560.36 67.55,557.32 68.00,555.48 68.45,554.41 68.90,555.44 69.35,553.01 69.80,549.76 70.25,552.30 70.70,549.31 71.15,550.56 71.60,549.28 72.05,551.45 72.50,551.77 72.95,553.97 73.40,557.52 73.85,559.22 74.30,562.46 74.75,563.40 75.20,566.79 75.65,569.85 76.10,570.98 76.55,570.67 77.00,572.97 77.45,574.81 77.90,576.89 78.35,578.91 78.80,578.31 79.25,579.43 79.70,581.90 80.15,581.58 80.60,581.49 81.05,583.11 81.50,584.00 81.95,584.30 82.40,584.96 82.85,585.28 83.30,586.73 83.75,586.77 84.20,588.39 84.65,588.71 85.10,588.15 85.55,588.61 86.00,589.25 86.45,589.72 86.90,588.49 87.35,589.36 87.80,590.57 88.25,591.17 88.70,589.23 89.15,590.56 89.60,591.78 90.05,591.42 90.50,590.54 90.95,590.16 91.40,590.06 91.85,590.84 92.30,591.67 92.75,591.95 93.20,591.54 93.65,591.27 94.10,592.15 94.55,592.65 95.00,592.83 95.45,592.08 95.90,592.96 96.35,591.90 96.80,593.45 97.25,594.76 97.70,594.10 98.15,594.37 98.60,594.04 99.05,593.46 99.50,594.72 99.95,594.07 100.40,593.52 100.85,594.10 101.30,594.16 101.75,593.90 102.20,593.55 102.65,593.90 103.10,592.54 103.55,591.99 104.00,590.54 104.45,587.37 104.90,584.77 105.35,579.83 105.80,577.78 106.25,570.32 106.70,565.18 107.15,560.52 107.60,556.43 108.05,553.22 108.50,549.65 108.95,548.15 109.40,549.65 109.85,550.00 110.30,555.10 110.75,556.84 111.20,563.36 111.65,567.01 112.10,573.03 112.55,574.70 113.00,583.22 113.45,583.65 113.90,587.39 114.35,589.42 114.80,592.93 115.25,593.63 115.70,595.29 116.15,594.99 116.60,595.44 117.05,595.67 117.50,595.99 117.95,596.00 118.40,595.91 118.85,595.40 119.30,595.84 119.75,596.00 120.20,595.83 120.65,595.78 121.10,596.00 121.55,596.00 122.00,595.69 122.45,595.85 122.90,596.00 123.35,596.00 123.80,596.00 124.25,595.56 124.70,596.00 125.15,596.00 125.60,596.00 126.05,595.41 126.50,595.94 126.95,595.66 127.40,596.00 127.85,595.61 128.30,595.95 128.75,596.00 129.20,595.96 129.65,595.89 130.10,595.73 130.55,595.73 131.00,596.00 131.45,595.95 131.90,596.00 132.35,595.89 132.80,595.78 133.25,595.96 133.70,596.00 134.15,595.78 134.60,595.92 135.05,596.00 135.50,595.74 135.95,595.71 136.40,595.89 136.85,595.83 137.30,596.00 137.75,596.00 138.20,595.99 138.65,596.00 139.10,595.57 139.55,595.81 140.00,595.50 140.45,596.00 140.90,595.60 141.35,596.00 141.80,596.00 142.25,595.64" fill="none" stroke="#d81e2c" stroke-width="1.4" stroke-linejoin="round"/>
<polyline points="47.30,595.60 47.75,596.00 48.20,595.93 48.65,596.00 49.10,596.00 49.55,595.55 50.00,595.47 50.45,596.00 50.90,596.00 51.35,596.00 51.80,596.00 52.25,595.47 52.70,595.78 53.15,595.83 53.60,595.67 54.05,596.00 54.50,595.93 54.95,595.73 55.40,595.76 55.85,596.00 56.30,596.00 56.75,595.80 57.20,595.87 57.65,596.00 58.10,595.63 58.55,595.79 59.00,595.85 59.45,595.96 59.90,595.80 60.35,595.50 60.80,596.00 61.25,595.43 61.70,595.84 62.15,595.74 62.60,595.28 63.05,595.71 63.50,595.54 63.95,595.83 64.40,595.46 64.85,595.21 65.30,595.29 65.75,595.07 66.20,593.90 66.65,593.33 67.10,593.82 67.55,593.01 68.00,591.31 68.45,590.09 68.90,590.39 69.35,588.68 69.80,586.08 70.25,583.79 70.70,582.75 71.15,582.66 71.60,578.45 72.05,577.56 72.50,575.65 72.95,572.82 73.40,572.10 73.85,569.93 74.30,570.42 74.75,564.30 75.20,563.98 75.65,563.67 76.10,562.39 76.55,562.11 77.00,562.59 77.45,562.86 77.90,562.47 78.35,565.04 78.80,564.29 79.25,562.92 79.70,561.17 80.15,562.46 80.60,562.39 81.05,562.80 81.50,564.22 81.95,564.01 82.40,564.81 82.85,565.74 83.30,565.74 83.75,565.75 84.20,567.23 84.65,568.07 85.10,567.61 85.55,568.37 86.00,568.81 86.45,568.44 86.90,570.07 87.35,570.93 87.80,572.23 88.25,573.35 88.70,572.37 89.15,572.98 89.60,573.75 90.05,574.44 90.50,576.20 90.95,575.94 91.40,576.84 91.85,577.10 92.30,578.78 92.75,577.99 93.20,578.77 93.65,581.24 94.10,581.11 94.55,581.65 95.00,581.84 95.45,581.81 95.90,584.82 96.35,583.20 96.80,584.09 97.25,585.56 97.70,586.17 98.15,585.78 98.60,586.92 99.05,587.56 99.50,587.98 99.95,586.73 100.40,589.93 100.85,587.73 101.30,590.48 101.75,589.06 102.20,590.50 102.65,590.49 103.10,591.29 103.55,591.42 104.00,590.68 104.45,592.25 104.90,593.36 105.35,592.46 105.80,593.81 106.25,592.81 106.70,592.31 107.15,592.25 107.60,591.55 108.05,588.90 108.50,586.88 108.95,584.93 109.40,581.78 109.85,578.79 110.30,575.11 110.75,569.52 111.20,563.85 111.65,557.17 112.10,550.61 112.55,543.42 113.00,537.74 113.45,535.94 113.90,534.25 114.35,536.60 114.80,536.30 115.25,540.91 115.70,543.43 116.15,545.27 116.60,551.93 117.05,557.74 117.50,561.95 117.95,568.35 118.40,572.26 118.85,577.49 119.30,579.74 119.75,583.89 120.20,586.56 120.65,588.68 121.10,590.54 121.55,591.95 122.00,593.19 122.45,594.15 122.90,594.38 123.35,594.84 123.80,594.90 124.25,595.02 124.70,595.12 125.15,595.78 125.60,595.99 126.05,595.74 126.50,595.88 126.95,595.53 127.40,595.95 127.85,595.63 128.30,596.00 128.75,595.71 129.20,596.00 129.65,596.00 130.10,596.00 130.55,596.00 131.00,596.00 131.45,595.46 131.90,595.66 132.35,595.80 132.80,596.00 133.25,595.86 133.70,596.00 134.15,596.00 134.60,596.00 135.05,595.97 135.50,595.18 135.95,596.00 136.40,596.00 136.85,596.00 137.30,596.00 137.75,596.00 138.20,596.00 138.65,596.00 139.10,595.99 139.55,596.00 140.00,596.00 140.45,596.00 140.90,596.00 141.35,595.84 141.80,596.00 142.25,596.00" fill="none" stroke="#f0a030" stroke-width="1.3" stroke-linejoin="round"/>
<line x1="47.30" y1="565.00" x2="47.30" y2="596.80" stroke="#a01020" stroke-width="1.4"/>
<text x="73.50" y="495.80" font-size="8.6" text-anchor="start" fill="#000" stroke="#000" stroke-width="0.1" font-weight="bold" transform="translate(73.50 495.80) scale(1 1.05) translate(-73.50 -495.80)">IgG</text>
<text x="73.50" y="509.80" font-size="8.6" text-anchor="start" fill="#999" stroke="#999" stroke-width="0.2" transform="translate(73.50 509.80) scale(1 1.05) translate(-73.50 -509.80)">IgG + 2-CA</text>
<text x="87.30" y="528.50" font-size="8.6" text-anchor="start" fill="#f0a030" stroke="#f0a030" stroke-width="0.2" transform="translate(87.30 528.50) scale(1 1.05) translate(-87.30 -528.50)">ATG + 2-CA</text>
<text x="87.30" y="543.50" font-size="8.6" text-anchor="start" fill="#c8102e" stroke="#c8102e" stroke-width="0.1" font-weight="bold" transform="translate(87.30 543.50) scale(1 1.05) translate(-87.30 -543.50)">ATG</text>
<text x="31.70" y="540.10" font-size="9.75" text-anchor="middle" fill="#000" stroke="#000" stroke-width="0.3" transform="rotate(-90 31.70 540.10) translate(31.70 540.10) scale(1 1.05) translate(-31.70 -540.10)">Cell count</text>
<text x="95.50" y="619.40" font-size="9.75" text-anchor="middle" fill="#000" stroke="#000" stroke-width="0.3" transform="translate(95.50 619.40) scale(1 1.05) translate(-95.50 -619.40)">Annexin V staining</text>
<line x1="193.90" y1="463.70" x2="193.90" y2="598.20" stroke="#000" stroke-width="1"/>
<line x1="193.50" y1="597.60" x2="298.00" y2="597.60" stroke="#000" stroke-width="1"/>
<line x1="190.60" y1="597.40" x2="193.90" y2="597.40" stroke="#000" stroke-width="1"/>
<text x="185.30" y="600.80" font-size="9.5" text-anchor="end" fill="#000" stroke="#000" stroke-width="0.3" transform="translate(185.30 600.80) scale(1 1.05) translate(-185.30 -600.80)">0</text>
<line x1="190.60" y1="564.05" x2="193.90" y2="564.05" stroke="#000" stroke-width="1"/>
<text x="185.30" y="567.45" font-size="9.5" text-anchor="end" fill="#000" stroke="#000" stroke-width="0.3" transform="translate(185.30 567.45) scale(1 1.05) translate(-185.30 -567.45)">20</text>
<line x1="190.60" y1="530.70" x2="193.90" y2="530.70" stroke="#000" stroke-width="1"/>
<text x="185.30" y="534.10" font-size="9.5" text-anchor="end" fill="#000" stroke="#000" stroke-width="0.3" transform="translate(185.30 534.10) scale(1 1.05) translate(-185.30 -534.10)">40</text>
<line x1="190.60" y1="497.35" x2="193.90" y2="497.35" stroke="#000" stroke-width="1"/>
<text x="185.30" y="500.75" font-size="9.5" text-anchor="end" fill="#000" stroke="#000" stroke-width="0.3" transform="translate(185.30 500.75) scale(1 1.05) translate(-185.30 -500.75)">60</text>
<line x1="190.60" y1="464.00" x2="193.90" y2="464.00" stroke="#000" stroke-width="1"/>
<text x="185.30" y="467.40" font-size="9.5" text-anchor="end" fill="#000" stroke="#000" stroke-width="0.3" transform="translate(185.30 467.40) scale(1 1.05) translate(-185.30 -467.40)">80</text>
<line x1="193.90" y1="597.60" x2="193.90" y2="600.60" stroke="#000" stroke-width="1"/>
<line x1="220.20" y1="597.60" x2="220.20" y2="600.60" stroke="#000" stroke-width="1"/>
<line x1="246.80" y1="597.60" x2="246.80" y2="600.60" stroke="#000" stroke-width="1"/>
<line x1="273.00" y1="597.60" x2="273.00" y2="600.60" stroke="#000" stroke-width="1"/>
<line x1="298.00" y1="597.60" x2="298.00" y2="600.60" stroke="#000" stroke-width="1"/>
<line x1="207.30" y1="579.56" x2="207.30" y2="571.55" stroke="#000" stroke-width="1.1"/>
<line x1="205.10" y1="571.55" x2="209.50" y2="571.55" stroke="#000" stroke-width="1.1"/>
<rect x="198.80" y="579.56" width="17.00" height="17.84" fill="#fff" stroke="#000" stroke-width="1.0"/>
<line x1="233.80" y1="576.56" x2="233.80" y2="569.05" stroke="#000" stroke-width="1.1"/>
<line x1="231.60" y1="569.05" x2="236.00" y2="569.05" stroke="#000" stroke-width="1.1"/>
<rect x="225.30" y="576.56" width="17.00" height="20.84" fill="#fff" stroke="#000" stroke-width="1.0"/>
<line x1="260.25" y1="543.04" x2="260.25" y2="530.20" stroke="#000" stroke-width="1.1"/>
<line x1="258.05" y1="530.20" x2="262.45" y2="530.20" stroke="#000" stroke-width="1.1"/>
<rect x="251.30" y="543.04" width="17.90" height="54.36" fill="#000" stroke="#000" stroke-width="1.0"/>
<line x1="286.80" y1="492.85" x2="286.80" y2="471.00" stroke="#000" stroke-width="1.1"/>
<line x1="284.60" y1="471.00" x2="289.00" y2="471.00" stroke="#000" stroke-width="1.1"/>
<rect x="278.00" y="492.85" width="17.60" height="104.55" fill="#000" stroke="#000" stroke-width="1.0"/>
<text x="233.40" y="612.90" font-size="9.6" text-anchor="middle" fill="#000" stroke="#000" stroke-width="0.3" transform="translate(233.40 612.90) scale(1 1.05) translate(-233.40 -612.90)">2-CA</text>
<text x="286.60" y="612.90" font-size="9.6" text-anchor="middle" fill="#000" stroke="#000" stroke-width="0.3" transform="translate(286.60 612.90) scale(1 1.05) translate(-286.60 -612.90)">2-CA</text>
<text x="274.00" y="464.20" font-size="8.0" text-anchor="middle" fill="#000" stroke="#000" stroke-width="0.2" transform="translate(274.00 464.20) scale(1 1.05) translate(-274.00 -464.20)">P&lt;0.05</text>
<line x1="259.90" y1="466.90" x2="290.60" y2="466.90" stroke="#000" stroke-width="0.9"/>
<rect x="198.20" y="463.70" width="12.10" height="7.00" fill="#fff" stroke="#000" stroke-width="1.0"/>
<rect x="198.20" y="475.00" width="12.10" height="7.00" fill="#000" stroke="#000" stroke-width="1.0"/>
<text x="212.40" y="470.60" font-size="9.0" text-anchor="start" fill="#000" stroke="#000" stroke-width="0.3" transform="translate(212.40 470.60) scale(1 1.05) translate(-212.40 -470.60)">IgG</text>
<text x="212.40" y="481.80" font-size="9.0" text-anchor="start" fill="#000" stroke="#000" stroke-width="0.3" transform="translate(212.40 481.80) scale(1 1.05) translate(-212.40 -481.80)">ATG</text>
<text x="167.70" y="529.90" font-size="9.75" text-anchor="middle" fill="#000" stroke="#000" stroke-width="0.3" transform="rotate(-90 167.70 529.90) translate(167.70 529.90) scale(1 1.05) translate(-167.70 -529.90)">PS exposure (% positive cells)</text>
<line x1="383.70" y1="463.60" x2="383.70" y2="598.00" stroke="#000" stroke-width="1"/>
<line x1="383.30" y1="597.60" x2="488.60" y2="597.60" stroke="#000" stroke-width="1"/>
<line x1="380.50" y1="597.60" x2="383.70" y2="597.60" stroke="#000" stroke-width="1"/>
<text x="376.00" y="601.00" font-size="9.7" text-anchor="end" fill="#000" stroke="#000" stroke-width="0.3" transform="translate(376.00 601.00) scale(1 1.05) translate(-376.00 -601.00)">0</text>
<line x1="380.50" y1="564.10" x2="383.70" y2="564.10" stroke="#000" stroke-width="1"/>
<text x="376.00" y="567.50" font-size="9.7" text-anchor="end" fill="#000" stroke="#000" stroke-width="0.3" transform="translate(376.00 567.50) scale(1 1.05) translate(-376.00 -567.50)">4000</text>
<line x1="380.50" y1="530.60" x2="383.70" y2="530.60" stroke="#000" stroke-width="1"/>
<text x="376.00" y="534.00" font-size="9.7" text-anchor="end" fill="#000" stroke="#000" stroke-width="0.3" transform="translate(376.00 534.00) scale(1 1.05) translate(-376.00 -534.00)">8000</text>
<line x1="380.50" y1="497.10" x2="383.70" y2="497.10" stroke="#000" stroke-width="1"/>
<text x="376.00" y="500.50" font-size="9.7" text-anchor="end" fill="#000" stroke="#000" stroke-width="0.3" transform="translate(376.00 500.50) scale(1 1.05) translate(-376.00 -500.50)">12000</text>
<line x1="380.50" y1="463.60" x2="383.70" y2="463.60" stroke="#000" stroke-width="1"/>
<text x="376.00" y="467.00" font-size="9.7" text-anchor="end" fill="#000" stroke="#000" stroke-width="0.3" transform="translate(376.00 467.00) scale(1 1.05) translate(-376.00 -467.00)">16000</text>
<line x1="383.70" y1="597.60" x2="383.70" y2="600.60" stroke="#000" stroke-width="1"/>
<line x1="409.70" y1="597.60" x2="409.70" y2="600.60" stroke="#000" stroke-width="1"/>
<line x1="436.20" y1="597.60" x2="436.20" y2="600.60" stroke="#000" stroke-width="1"/>
<line x1="462.50" y1="597.60" x2="462.50" y2="600.60" stroke="#000" stroke-width="1"/>
<line x1="488.40" y1="597.60" x2="488.40" y2="600.60" stroke="#000" stroke-width="1"/>
<line x1="397.00" y1="595.51" x2="397.00" y2="594.84" stroke="#000" stroke-width="1.1"/>
<line x1="394.80" y1="594.84" x2="399.20" y2="594.84" stroke="#000" stroke-width="1.1"/>
<rect x="388.20" y="595.51" width="17.60" height="2.09" fill="#fff" stroke="#000" stroke-width="1.0"/>
<line x1="422.95" y1="595.51" x2="422.95" y2="594.84" stroke="#000" stroke-width="1.1"/>
<line x1="420.75" y1="594.84" x2="425.15" y2="594.84" stroke="#000" stroke-width="1.1"/>
<rect x="414.30" y="595.51" width="17.30" height="2.09" fill="#fff" stroke="#000" stroke-width="1.0"/>
<line x1="449.05" y1="524.74" x2="449.05" y2="487.64" stroke="#000" stroke-width="1.1"/>
<line x1="446.85" y1="487.64" x2="451.25" y2="487.64" stroke="#000" stroke-width="1.1"/>
<rect x="440.50" y="524.74" width="17.10" height="72.86" fill="#000" stroke="#000" stroke-width="1.0"/>
<line x1="475.20" y1="523.65" x2="475.20" y2="498.19" stroke="#000" stroke-width="1.1"/>
<line x1="473.00" y1="498.19" x2="477.40" y2="498.19" stroke="#000" stroke-width="1.1"/>
<rect x="466.40" y="523.65" width="17.60" height="73.95" fill="#000" stroke="#000" stroke-width="1.0"/>
<text x="423.00" y="613.30" font-size="9.5" text-anchor="middle" fill="#000" stroke="#000" stroke-width="0.3" transform="translate(423.00 613.30) scale(1 1.05) translate(-423.00 -613.30)">2-CA</text>
<text x="475.30" y="613.30" font-size="9.5" text-anchor="middle" fill="#000" stroke="#000" stroke-width="0.3" transform="translate(475.30 613.30) scale(1 1.05) translate(-475.30 -613.30)">2-CA</text>
<rect x="387.30" y="463.50" width="11.20" height="6.90" fill="#fff" stroke="#000" stroke-width="1.0"/>
<rect x="387.30" y="475.00" width="11.20" height="6.90" fill="#000" stroke="#000" stroke-width="1.0"/>
<text x="401.70" y="471.00" font-size="9.0" text-anchor="start" fill="#000" stroke="#000" stroke-width="0.3" transform="translate(401.70 471.00) scale(1 1.05) translate(-401.70 -471.00)">IgG</text>
<text x="401.70" y="481.80" font-size="9.0" text-anchor="start" fill="#000" stroke="#000" stroke-width="0.3" transform="translate(401.70 481.80) scale(1 1.05) translate(-401.70 -481.80)">ATG</text>
<text x="340.7" y="531.1" font-size="9.73" text-anchor="middle" stroke="#000" stroke-width="0.3" transform="rotate(-90 340.70 531.10) translate(340.70 531.10) scale(1 1.05) translate(-340.70 -531.10)">PCA (units/10<tspan font-size="6.5" dy="-3.8">6</tspan><tspan dy="3.8"> cells)</tspan></text>
</svg>
</body></html>
